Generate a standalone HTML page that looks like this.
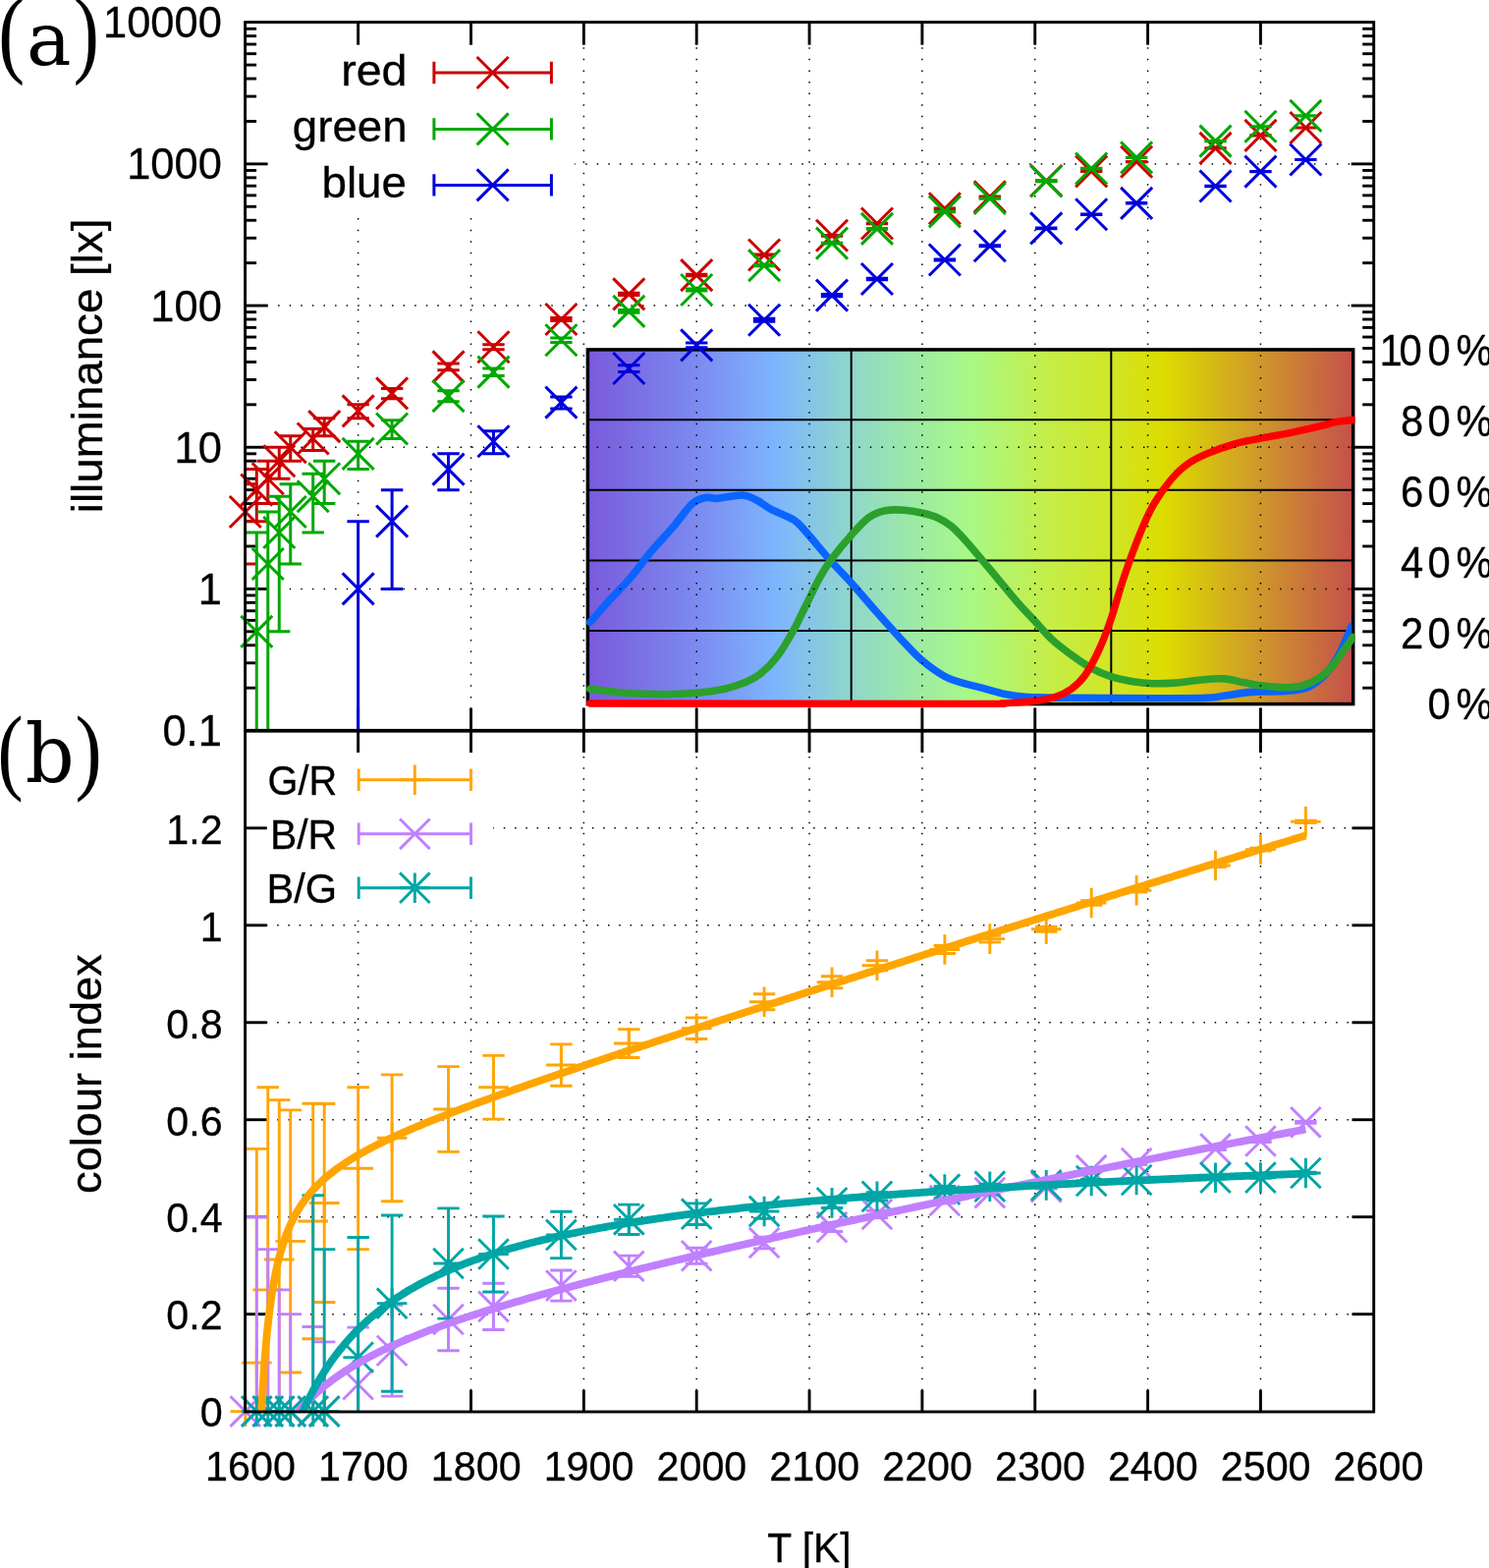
<!DOCTYPE html>
<html><head><meta charset="utf-8"><title>plot</title>
<style>html,body{margin:0;padding:0;background:#fff;overflow:hidden}svg{display:block}</style>
</head><body>
<svg xmlns="http://www.w3.org/2000/svg" width="1516" height="1596" viewBox="0 0 1516 1596">
<rect width="1516" height="1596" fill="#fff"/>
<defs><linearGradient id="spec" x1="0" x2="1" y1="0" y2="0">
<stop offset="0" stop-color="#7a5adc"/>
<stop offset="0.13" stop-color="#7b86ee"/>
<stop offset="0.246" stop-color="#7db5ff"/>
<stop offset="0.341" stop-color="#8fd6cc"/>
<stop offset="0.42" stop-color="#9ce8a8"/>
<stop offset="0.497" stop-color="#a8f888"/>
<stop offset="0.60" stop-color="#c4ee48"/>
<stop offset="0.68" stop-color="#d0e628"/>
<stop offset="0.754" stop-color="#dcdc00"/>
<stop offset="0.87" stop-color="#d09c28"/>
<stop offset="1" stop-color="#c4504c"/>
</linearGradient></defs>
<rect x="598.4" y="355.9" width="779.3000000000001" height="360.70000000000005" fill="url(#spec)"/>
<line x1="598.4" y1="427.3" x2="1377.7" y2="427.3" stroke="#000" stroke-width="2.0" />
<line x1="598.4" y1="498.85" x2="1377.7" y2="498.85" stroke="#000" stroke-width="2.0" />
<line x1="598.4" y1="570.4" x2="1377.7" y2="570.4" stroke="#000" stroke-width="2.0" />
<line x1="598.4" y1="641.95" x2="1377.7" y2="641.95" stroke="#000" stroke-width="2.0" />
<line x1="866.7" y1="355.9" x2="866.7" y2="716.6" stroke="#000" stroke-width="2.0" />
<line x1="1131.3" y1="355.9" x2="1131.3" y2="716.6" stroke="#000" stroke-width="2.0" />
<rect x="598.4" y="355.9" width="779.3000000000001" height="360.70000000000005" fill="none" stroke="#000" stroke-width="3.5"/>
<clipPath id="ci"><rect x="596.4" y="355.9" width="783.2" height="366.70000000000005"/></clipPath>
<clipPath id="cib"><rect x="596.4" y="355.9" width="779.9000000000001" height="366.70000000000005"/></clipPath>
<path d="M600.8 633.3C604.27 629.38 614.68 617.42 621.6 609.8C628.52 602.18 635.38 595.68 642.3 587.6C649.22 579.52 655.93 569.83 663.1 561.3C670.27 552.77 678.37 544.48 685.3 536.4C692.23 528.32 699.17 517.78 704.7 512.8C710.23 507.82 714.12 507.42 718.5 506.5C722.88 505.58 724.77 507.72 731 507.3C737.23 506.88 749.22 503.63 755.9 504C762.58 504.37 766.25 507.1 771.1 509.5C775.95 511.9 778.77 515.08 785 518.4C791.23 521.72 802.5 525.48 808.5 529.4C814.5 533.32 814.77 534.97 821 541.9C827.23 548.83 838.28 562.45 845.9 571C853.52 579.55 858.85 584.43 866.7 593.2C874.55 601.97 884.45 613.92 893 623.6C901.55 633.28 910.38 643.22 918 651.3C925.62 659.38 931.32 665.87 938.7 672.1C946.08 678.33 955.42 684.87 962.3 688.7C969.18 692.53 973.35 693.08 980 695.1C986.65 697.12 994.82 698.85 1002.2 700.8C1009.58 702.75 1016.92 705.33 1024.3 706.8C1031.68 708.27 1035.42 709.02 1046.5 709.6C1057.58 710.18 1069.57 710.1 1090.8 710.3C1112.03 710.5 1150.82 710.82 1173.9 710.8C1196.98 710.78 1217.3 710.62 1229.3 710.2C1241.3 709.78 1238.97 709.23 1245.9 708.3C1252.83 707.37 1264.43 705.32 1270.9 704.6C1277.37 703.88 1277.78 704.23 1284.7 704C1291.62 703.77 1304.55 703.97 1312.4 703.2C1320.25 702.43 1325.8 702.05 1331.8 699.4C1337.8 696.75 1343.32 692.53 1348.4 687.3C1353.48 682.07 1358.37 674.72 1362.3 668C1366.23 661.28 1369.72 652.08 1372 647C1374.28 641.92 1375.33 639.08 1376 637.5" stroke="#0a64ff" stroke-width="7.6" fill="none" stroke-linejoin="round" stroke-linecap="round" clip-path="url(#cib)"/>
<path d="M600.8 701.2C606.57 701.88 622.7 704.38 635.4 705.3C648.1 706.22 664.53 706.7 677 706.7C689.47 706.7 700.05 706.22 710.2 705.3C720.35 704.38 730.05 702.9 737.9 701.2C745.75 699.5 751.3 697.63 757.3 695.1C763.3 692.57 768.37 690.3 773.9 686C779.43 681.7 784.97 676.47 790.5 669.3C796.03 662.13 802.02 652 807.1 643C812.18 634 816.38 624.53 821 615.3C825.62 606.07 830.42 595.45 834.8 587.6C839.18 579.75 841.98 575.35 847.3 568.2C852.62 561.05 860.47 551.62 866.7 544.7C872.93 537.78 878.93 530.87 884.7 526.7C890.47 522.53 895.3 520.95 901.3 519.7C907.3 518.45 914.23 518.73 920.7 519.2C927.17 519.67 934.55 521.25 940.1 522.5C945.65 523.75 949.38 524.62 954 526.7C958.62 528.78 963.18 531.32 967.8 535C972.42 538.68 975.05 541.42 981.7 548.8C988.35 556.18 998.75 568.68 1007.7 579.3C1016.65 589.92 1027.78 603.73 1035.4 612.5C1043.02 621.27 1047.4 625.43 1053.4 631.9C1059.4 638.37 1065.17 645.52 1071.4 651.3C1077.63 657.08 1084.33 661.88 1090.8 666.6C1097.27 671.32 1103.5 675.92 1110.2 679.6C1116.9 683.28 1124.08 686.4 1131 688.7C1137.92 691 1144.55 692.23 1151.7 693.4C1158.85 694.57 1166.52 695.42 1173.9 695.7C1181.28 695.98 1188.15 695.67 1196 695.1C1203.85 694.53 1212.68 693 1221 692.3C1229.32 691.6 1238.05 690.43 1245.9 690.9C1253.75 691.37 1261.63 693.93 1268.1 695.1C1274.57 696.27 1278.23 697.12 1284.7 697.9C1291.17 698.68 1299.97 699.8 1306.9 699.8C1313.83 699.8 1320.3 699.52 1326.3 697.9C1332.3 696.28 1337.83 693.48 1342.9 690.1C1347.97 686.72 1352.55 682.22 1356.7 677.6C1360.85 672.98 1364.33 667.25 1367.8 662.4C1371.27 657.55 1375.88 650.82 1377.5 648.5" stroke="#2ca02c" stroke-width="7.6" fill="none" stroke-linejoin="round" stroke-linecap="round" clip-path="url(#ci)"/>
<path d="M600.8 716C664 716.07 909.87 716.42 980 716.4C1050.13 716.38 1009.6 716.35 1021.6 715.9C1033.6 715.45 1043.23 714.77 1052 713.7C1060.77 712.63 1067.73 711.58 1074.2 709.5C1080.67 707.42 1085.72 704.9 1090.8 701.2C1095.88 697.5 1100.08 693.77 1104.7 687.3C1109.32 680.83 1114.12 671.85 1118.5 662.4C1122.88 652.95 1126.85 642.6 1131 630.6C1135.15 618.6 1139.02 603.57 1143.4 590.4C1147.78 577.23 1152.68 563.38 1157.3 551.6C1161.92 539.82 1166.48 528.7 1171.1 519.7C1175.72 510.7 1180.38 504.05 1185 497.6C1189.62 491.15 1194.18 485.62 1198.8 481C1203.42 476.38 1207.62 473.13 1212.7 469.9C1217.78 466.67 1221.92 464.6 1229.3 461.6C1236.68 458.6 1247.77 454.53 1257 451.9C1266.23 449.27 1275.47 447.65 1284.7 445.8C1293.93 443.95 1303.17 442.65 1312.4 440.8C1321.63 438.95 1331.78 436.63 1340.1 434.7C1348.42 432.77 1356.07 430.4 1362.3 429.2C1368.53 428 1374.97 427.78 1377.5 427.5" stroke="#ff0000" stroke-width="7.4" fill="none" stroke-linejoin="round" stroke-linecap="round" clip-path="url(#ci)"/>
<line x1="364.65" y1="744.4" x2="364.65" y2="222" stroke="#000" stroke-width="1.5" stroke-dasharray="1.5 10.09" stroke-dashoffset="0.75"/>
<line x1="479.5" y1="744.4" x2="479.5" y2="222" stroke="#000" stroke-width="1.5" stroke-dasharray="1.5 10.09" stroke-dashoffset="0.75"/>
<line x1="594.35" y1="744.4" x2="594.35" y2="22.7" stroke="#000" stroke-width="1.5" stroke-dasharray="1.5 10.09" stroke-dashoffset="0.75"/>
<line x1="709.2" y1="744.4" x2="709.2" y2="22.7" stroke="#000" stroke-width="1.5" stroke-dasharray="1.5 10.09" stroke-dashoffset="0.75"/>
<line x1="824.05" y1="744.4" x2="824.05" y2="22.7" stroke="#000" stroke-width="1.5" stroke-dasharray="1.5 10.09" stroke-dashoffset="0.75"/>
<line x1="938.9" y1="744.4" x2="938.9" y2="22.7" stroke="#000" stroke-width="1.5" stroke-dasharray="1.5 10.09" stroke-dashoffset="0.75"/>
<line x1="1053.75" y1="744.4" x2="1053.75" y2="22.7" stroke="#000" stroke-width="1.5" stroke-dasharray="1.5 10.09" stroke-dashoffset="0.75"/>
<line x1="1168.6" y1="744.4" x2="1168.6" y2="22.7" stroke="#000" stroke-width="1.5" stroke-dasharray="1.5 10.09" stroke-dashoffset="0.75"/>
<line x1="1283.45" y1="744.4" x2="1283.45" y2="22.7" stroke="#000" stroke-width="1.5" stroke-dasharray="1.5 10.09" stroke-dashoffset="0.75"/>
<line x1="249.1" y1="599.42" x2="1398.3" y2="599.42" stroke="#000" stroke-width="1.5" stroke-dasharray="1.5 10.09" stroke-dashoffset="0.75"/>
<line x1="249.1" y1="455.24" x2="1398.3" y2="455.24" stroke="#000" stroke-width="1.5" stroke-dasharray="1.5 10.09" stroke-dashoffset="0.75"/>
<line x1="249.1" y1="311.06" x2="1398.3" y2="311.06" stroke="#000" stroke-width="1.5" stroke-dasharray="1.5 10.09" stroke-dashoffset="0.75"/>
<line x1="585.27" y1="166.88" x2="1398.3" y2="166.88" stroke="#000" stroke-width="1.5" stroke-dasharray="1.5 10.09" stroke-dashoffset="0.75"/>
<line x1="364.65" y1="1436.8" x2="364.65" y2="937" stroke="#000" stroke-width="1.5" stroke-dasharray="1.5 9.6" stroke-dashoffset="0.75"/>
<line x1="479.5" y1="1436.8" x2="479.5" y2="937" stroke="#000" stroke-width="1.5" stroke-dasharray="1.5 9.6" stroke-dashoffset="0.75"/>
<line x1="594.35" y1="1436.8" x2="594.35" y2="743.9" stroke="#000" stroke-width="1.5" stroke-dasharray="1.5 9.6" stroke-dashoffset="0.75"/>
<line x1="709.2" y1="1436.8" x2="709.2" y2="743.9" stroke="#000" stroke-width="1.5" stroke-dasharray="1.5 9.6" stroke-dashoffset="0.75"/>
<line x1="824.05" y1="1436.8" x2="824.05" y2="743.9" stroke="#000" stroke-width="1.5" stroke-dasharray="1.5 9.6" stroke-dashoffset="0.75"/>
<line x1="938.9" y1="1436.8" x2="938.9" y2="743.9" stroke="#000" stroke-width="1.5" stroke-dasharray="1.5 9.6" stroke-dashoffset="0.75"/>
<line x1="1053.75" y1="1436.8" x2="1053.75" y2="743.9" stroke="#000" stroke-width="1.5" stroke-dasharray="1.5 9.6" stroke-dashoffset="0.75"/>
<line x1="1168.6" y1="1436.8" x2="1168.6" y2="743.9" stroke="#000" stroke-width="1.5" stroke-dasharray="1.5 9.6" stroke-dashoffset="0.75"/>
<line x1="1283.45" y1="1436.8" x2="1283.45" y2="743.9" stroke="#000" stroke-width="1.5" stroke-dasharray="1.5 9.6" stroke-dashoffset="0.75"/>
<line x1="249.2" y1="1337.64" x2="1398.3" y2="1337.64" stroke="#000" stroke-width="1.5" stroke-dasharray="1.5 9.73" stroke-dashoffset="0.75"/>
<line x1="249.2" y1="1238.69" x2="1398.3" y2="1238.69" stroke="#000" stroke-width="1.5" stroke-dasharray="1.5 9.73" stroke-dashoffset="0.75"/>
<line x1="249.2" y1="1139.73" x2="1398.3" y2="1139.73" stroke="#000" stroke-width="1.5" stroke-dasharray="1.5 9.73" stroke-dashoffset="0.75"/>
<line x1="249.2" y1="1040.77" x2="1398.3" y2="1040.77" stroke="#000" stroke-width="1.5" stroke-dasharray="1.5 9.73" stroke-dashoffset="0.75"/>
<line x1="249.2" y1="941.81" x2="1398.3" y2="941.81" stroke="#000" stroke-width="1.5" stroke-dasharray="1.5 9.73" stroke-dashoffset="0.75"/>
<line x1="502.3" y1="842.86" x2="1398.3" y2="842.86" stroke="#000" stroke-width="1.5" stroke-dasharray="1.5 9.76" stroke-dashoffset="0.75"/>
<clipPath id="ca"><rect x="249.8" y="22.7" width="1148.5" height="720.9"/></clipPath>
<clipPath id="cb"><rect x="249.8" y="743.9" width="1148.5" height="692.6999999999999"/></clipPath>
<line x1="364.65" y1="22.7" x2="364.65" y2="45.7" stroke="#000" stroke-width="2.9" />
<line x1="364.65" y1="743.6" x2="364.65" y2="720.6" stroke="#000" stroke-width="2.9" />
<line x1="479.5" y1="22.7" x2="479.5" y2="45.7" stroke="#000" stroke-width="2.9" />
<line x1="479.5" y1="743.6" x2="479.5" y2="720.6" stroke="#000" stroke-width="2.9" />
<line x1="594.35" y1="22.7" x2="594.35" y2="45.7" stroke="#000" stroke-width="2.9" />
<line x1="594.35" y1="743.6" x2="594.35" y2="720.6" stroke="#000" stroke-width="2.9" />
<line x1="709.2" y1="22.7" x2="709.2" y2="45.7" stroke="#000" stroke-width="2.9" />
<line x1="709.2" y1="743.6" x2="709.2" y2="720.6" stroke="#000" stroke-width="2.9" />
<line x1="824.05" y1="22.7" x2="824.05" y2="45.7" stroke="#000" stroke-width="2.9" />
<line x1="824.05" y1="743.6" x2="824.05" y2="720.6" stroke="#000" stroke-width="2.9" />
<line x1="938.9" y1="22.7" x2="938.9" y2="45.7" stroke="#000" stroke-width="2.9" />
<line x1="938.9" y1="743.6" x2="938.9" y2="720.6" stroke="#000" stroke-width="2.9" />
<line x1="1053.75" y1="22.7" x2="1053.75" y2="45.7" stroke="#000" stroke-width="2.9" />
<line x1="1053.75" y1="743.6" x2="1053.75" y2="720.6" stroke="#000" stroke-width="2.9" />
<line x1="1168.6" y1="22.7" x2="1168.6" y2="45.7" stroke="#000" stroke-width="2.9" />
<line x1="1168.6" y1="743.6" x2="1168.6" y2="720.6" stroke="#000" stroke-width="2.9" />
<line x1="1283.45" y1="22.7" x2="1283.45" y2="45.7" stroke="#000" stroke-width="2.9" />
<line x1="1283.45" y1="743.6" x2="1283.45" y2="720.6" stroke="#000" stroke-width="2.9" />
<line x1="249.6" y1="700.2" x2="261.1" y2="700.2" stroke="#000" stroke-width="2.9" />
<line x1="1398.7" y1="700.2" x2="1387.2" y2="700.2" stroke="#000" stroke-width="2.9" />
<line x1="249.6" y1="674.81" x2="261.1" y2="674.81" stroke="#000" stroke-width="2.9" />
<line x1="1398.7" y1="674.81" x2="1387.2" y2="674.81" stroke="#000" stroke-width="2.9" />
<line x1="249.6" y1="656.79" x2="261.1" y2="656.79" stroke="#000" stroke-width="2.9" />
<line x1="1398.7" y1="656.79" x2="1387.2" y2="656.79" stroke="#000" stroke-width="2.9" />
<line x1="249.6" y1="642.82" x2="261.1" y2="642.82" stroke="#000" stroke-width="2.9" />
<line x1="1398.7" y1="642.82" x2="1387.2" y2="642.82" stroke="#000" stroke-width="2.9" />
<line x1="249.6" y1="631.41" x2="261.1" y2="631.41" stroke="#000" stroke-width="2.9" />
<line x1="1398.7" y1="631.41" x2="1387.2" y2="631.41" stroke="#000" stroke-width="2.9" />
<line x1="249.6" y1="621.75" x2="261.1" y2="621.75" stroke="#000" stroke-width="2.9" />
<line x1="1398.7" y1="621.75" x2="1387.2" y2="621.75" stroke="#000" stroke-width="2.9" />
<line x1="249.6" y1="613.39" x2="261.1" y2="613.39" stroke="#000" stroke-width="2.9" />
<line x1="1398.7" y1="613.39" x2="1387.2" y2="613.39" stroke="#000" stroke-width="2.9" />
<line x1="249.6" y1="606.02" x2="261.1" y2="606.02" stroke="#000" stroke-width="2.9" />
<line x1="1398.7" y1="606.02" x2="1387.2" y2="606.02" stroke="#000" stroke-width="2.9" />
<line x1="249.6" y1="599.42" x2="272.6" y2="599.42" stroke="#000" stroke-width="2.9" />
<line x1="1398.7" y1="599.42" x2="1375.7" y2="599.42" stroke="#000" stroke-width="2.9" />
<line x1="249.6" y1="556.02" x2="261.1" y2="556.02" stroke="#000" stroke-width="2.9" />
<line x1="1398.7" y1="556.02" x2="1387.2" y2="556.02" stroke="#000" stroke-width="2.9" />
<line x1="249.6" y1="530.63" x2="261.1" y2="530.63" stroke="#000" stroke-width="2.9" />
<line x1="1398.7" y1="530.63" x2="1387.2" y2="530.63" stroke="#000" stroke-width="2.9" />
<line x1="249.6" y1="512.61" x2="261.1" y2="512.61" stroke="#000" stroke-width="2.9" />
<line x1="1398.7" y1="512.61" x2="1387.2" y2="512.61" stroke="#000" stroke-width="2.9" />
<line x1="249.6" y1="498.64" x2="261.1" y2="498.64" stroke="#000" stroke-width="2.9" />
<line x1="1398.7" y1="498.64" x2="1387.2" y2="498.64" stroke="#000" stroke-width="2.9" />
<line x1="249.6" y1="487.23" x2="261.1" y2="487.23" stroke="#000" stroke-width="2.9" />
<line x1="1398.7" y1="487.23" x2="1387.2" y2="487.23" stroke="#000" stroke-width="2.9" />
<line x1="249.6" y1="477.57" x2="261.1" y2="477.57" stroke="#000" stroke-width="2.9" />
<line x1="1398.7" y1="477.57" x2="1387.2" y2="477.57" stroke="#000" stroke-width="2.9" />
<line x1="249.6" y1="469.21" x2="261.1" y2="469.21" stroke="#000" stroke-width="2.9" />
<line x1="1398.7" y1="469.21" x2="1387.2" y2="469.21" stroke="#000" stroke-width="2.9" />
<line x1="249.6" y1="461.84" x2="261.1" y2="461.84" stroke="#000" stroke-width="2.9" />
<line x1="1398.7" y1="461.84" x2="1387.2" y2="461.84" stroke="#000" stroke-width="2.9" />
<line x1="249.6" y1="455.24" x2="272.6" y2="455.24" stroke="#000" stroke-width="2.9" />
<line x1="1398.7" y1="455.24" x2="1375.7" y2="455.24" stroke="#000" stroke-width="2.9" />
<line x1="249.6" y1="411.84" x2="261.1" y2="411.84" stroke="#000" stroke-width="2.9" />
<line x1="1398.7" y1="411.84" x2="1387.2" y2="411.84" stroke="#000" stroke-width="2.9" />
<line x1="249.6" y1="386.45" x2="261.1" y2="386.45" stroke="#000" stroke-width="2.9" />
<line x1="1398.7" y1="386.45" x2="1387.2" y2="386.45" stroke="#000" stroke-width="2.9" />
<line x1="249.6" y1="368.43" x2="261.1" y2="368.43" stroke="#000" stroke-width="2.9" />
<line x1="1398.7" y1="368.43" x2="1387.2" y2="368.43" stroke="#000" stroke-width="2.9" />
<line x1="249.6" y1="354.46" x2="261.1" y2="354.46" stroke="#000" stroke-width="2.9" />
<line x1="1398.7" y1="354.46" x2="1387.2" y2="354.46" stroke="#000" stroke-width="2.9" />
<line x1="249.6" y1="343.05" x2="261.1" y2="343.05" stroke="#000" stroke-width="2.9" />
<line x1="1398.7" y1="343.05" x2="1387.2" y2="343.05" stroke="#000" stroke-width="2.9" />
<line x1="249.6" y1="333.39" x2="261.1" y2="333.39" stroke="#000" stroke-width="2.9" />
<line x1="1398.7" y1="333.39" x2="1387.2" y2="333.39" stroke="#000" stroke-width="2.9" />
<line x1="249.6" y1="325.03" x2="261.1" y2="325.03" stroke="#000" stroke-width="2.9" />
<line x1="1398.7" y1="325.03" x2="1387.2" y2="325.03" stroke="#000" stroke-width="2.9" />
<line x1="249.6" y1="317.66" x2="261.1" y2="317.66" stroke="#000" stroke-width="2.9" />
<line x1="1398.7" y1="317.66" x2="1387.2" y2="317.66" stroke="#000" stroke-width="2.9" />
<line x1="249.6" y1="311.06" x2="272.6" y2="311.06" stroke="#000" stroke-width="2.9" />
<line x1="1398.7" y1="311.06" x2="1375.7" y2="311.06" stroke="#000" stroke-width="2.9" />
<line x1="249.6" y1="267.66" x2="261.1" y2="267.66" stroke="#000" stroke-width="2.9" />
<line x1="1398.7" y1="267.66" x2="1387.2" y2="267.66" stroke="#000" stroke-width="2.9" />
<line x1="249.6" y1="242.27" x2="261.1" y2="242.27" stroke="#000" stroke-width="2.9" />
<line x1="1398.7" y1="242.27" x2="1387.2" y2="242.27" stroke="#000" stroke-width="2.9" />
<line x1="249.6" y1="224.25" x2="261.1" y2="224.25" stroke="#000" stroke-width="2.9" />
<line x1="1398.7" y1="224.25" x2="1387.2" y2="224.25" stroke="#000" stroke-width="2.9" />
<line x1="249.6" y1="210.28" x2="261.1" y2="210.28" stroke="#000" stroke-width="2.9" />
<line x1="1398.7" y1="210.28" x2="1387.2" y2="210.28" stroke="#000" stroke-width="2.9" />
<line x1="249.6" y1="198.87" x2="261.1" y2="198.87" stroke="#000" stroke-width="2.9" />
<line x1="1398.7" y1="198.87" x2="1387.2" y2="198.87" stroke="#000" stroke-width="2.9" />
<line x1="249.6" y1="189.21" x2="261.1" y2="189.21" stroke="#000" stroke-width="2.9" />
<line x1="1398.7" y1="189.21" x2="1387.2" y2="189.21" stroke="#000" stroke-width="2.9" />
<line x1="249.6" y1="180.85" x2="261.1" y2="180.85" stroke="#000" stroke-width="2.9" />
<line x1="1398.7" y1="180.85" x2="1387.2" y2="180.85" stroke="#000" stroke-width="2.9" />
<line x1="249.6" y1="173.48" x2="261.1" y2="173.48" stroke="#000" stroke-width="2.9" />
<line x1="1398.7" y1="173.48" x2="1387.2" y2="173.48" stroke="#000" stroke-width="2.9" />
<line x1="249.6" y1="166.88" x2="272.6" y2="166.88" stroke="#000" stroke-width="2.9" />
<line x1="1398.7" y1="166.88" x2="1375.7" y2="166.88" stroke="#000" stroke-width="2.9" />
<line x1="249.6" y1="123.48" x2="261.1" y2="123.48" stroke="#000" stroke-width="2.9" />
<line x1="1398.7" y1="123.48" x2="1387.2" y2="123.48" stroke="#000" stroke-width="2.9" />
<line x1="249.6" y1="98.09" x2="261.1" y2="98.09" stroke="#000" stroke-width="2.9" />
<line x1="1398.7" y1="98.09" x2="1387.2" y2="98.09" stroke="#000" stroke-width="2.9" />
<line x1="249.6" y1="80.07" x2="261.1" y2="80.07" stroke="#000" stroke-width="2.9" />
<line x1="1398.7" y1="80.07" x2="1387.2" y2="80.07" stroke="#000" stroke-width="2.9" />
<line x1="249.6" y1="66.1" x2="261.1" y2="66.1" stroke="#000" stroke-width="2.9" />
<line x1="1398.7" y1="66.1" x2="1387.2" y2="66.1" stroke="#000" stroke-width="2.9" />
<line x1="249.6" y1="54.69" x2="261.1" y2="54.69" stroke="#000" stroke-width="2.9" />
<line x1="1398.7" y1="54.69" x2="1387.2" y2="54.69" stroke="#000" stroke-width="2.9" />
<line x1="249.6" y1="45.03" x2="261.1" y2="45.03" stroke="#000" stroke-width="2.9" />
<line x1="1398.7" y1="45.03" x2="1387.2" y2="45.03" stroke="#000" stroke-width="2.9" />
<line x1="249.6" y1="36.67" x2="261.1" y2="36.67" stroke="#000" stroke-width="2.9" />
<line x1="1398.7" y1="36.67" x2="1387.2" y2="36.67" stroke="#000" stroke-width="2.9" />
<line x1="249.6" y1="29.3" x2="261.1" y2="29.3" stroke="#000" stroke-width="2.9" />
<line x1="1398.7" y1="29.3" x2="1387.2" y2="29.3" stroke="#000" stroke-width="2.9" />
<path d="M249.8 492.67L261 492.67M249.8 574.03L261 574.03" stroke="#cc0000" stroke-width="3.0" fill="none" clip-path="url(#ca)"/>
<path d="M233.8 504.98L265.8 536.98M233.8 536.98L265.8 504.98" stroke="#cc0000" stroke-width="3.0" fill="none"/>
<path d="M261.29 477.57L261.29 530.63M250.09 477.57L272.49 477.57M250.09 530.63L272.49 530.63" stroke="#cc0000" stroke-width="3.0" fill="none" clip-path="url(#ca)"/>
<path d="M245.29 482.64L277.29 514.64M245.29 514.64L277.29 482.64" stroke="#cc0000" stroke-width="3.0" fill="none"/>
<path d="M272.77 469.21L272.77 512.61M261.57 469.21L283.97 469.21M261.57 512.61L283.97 512.61" stroke="#cc0000" stroke-width="3.0" fill="none" clip-path="url(#ca)"/>
<path d="M256.77 471.23L288.77 503.23M256.77 503.23L288.77 471.23" stroke="#cc0000" stroke-width="3.0" fill="none"/>
<path d="M284.25 455.24L284.25 487.23M273.06 455.24L295.45 455.24M273.06 487.23L295.45 487.23" stroke="#cc0000" stroke-width="3.0" fill="none" clip-path="url(#ca)"/>
<path d="M268.25 453.21L300.25 485.21M268.25 485.21L300.25 453.21" stroke="#cc0000" stroke-width="3.0" fill="none"/>
<path d="M295.74 443.82L295.74 469.21M284.54 443.82L306.94 443.82M284.54 469.21L306.94 469.21" stroke="#cc0000" stroke-width="3.0" fill="none" clip-path="url(#ca)"/>
<path d="M279.74 439.24L311.74 471.24M279.74 471.24L311.74 439.24" stroke="#cc0000" stroke-width="3.0" fill="none"/>
<path d="M318.71 436.45L318.71 458.45M307.51 436.45L329.91 436.45M307.51 458.45L329.91 458.45" stroke="#cc0000" stroke-width="3.0" fill="none" clip-path="url(#ca)"/>
<path d="M302.71 430.49L334.71 462.49M302.71 462.49L334.71 430.49" stroke="#cc0000" stroke-width="3.0" fill="none"/>
<path d="M330.19 425.81L330.19 443.82M319 425.81L341.39 425.81M319 443.82L341.39 443.82" stroke="#cc0000" stroke-width="3.0" fill="none" clip-path="url(#ca)"/>
<path d="M314.19 418.17L346.19 450.17M314.19 450.17L346.19 418.17" stroke="#cc0000" stroke-width="3.0" fill="none"/>
<path d="M364.65 411.84L364.65 425.81M353.45 411.84L375.85 411.84M353.45 425.81L375.85 425.81" stroke="#cc0000" stroke-width="3.0" fill="none" clip-path="url(#ca)"/>
<path d="M348.65 402.43L380.65 434.43M348.65 434.43L380.65 402.43" stroke="#cc0000" stroke-width="3.0" fill="none"/>
<path d="M399.11 395.41L399.11 405.87M387.91 395.41L410.31 395.41M387.91 405.87L410.31 405.87" stroke="#cc0000" stroke-width="3.0" fill="none" clip-path="url(#ca)"/>
<path d="M383.11 384.42L415.11 416.42M383.11 416.42L415.11 384.42" stroke="#cc0000" stroke-width="3.0" fill="none"/>
<path d="M456.53 370.02L456.53 376.8M445.33 370.02L467.73 370.02M445.33 376.8L467.73 376.8" stroke="#cc0000" stroke-width="3.0" fill="none" clip-path="url(#ca)"/>
<path d="M440.53 357.32L472.53 389.32M440.53 389.32L472.53 357.32" stroke="#cc0000" stroke-width="3.0" fill="none"/>
<path d="M502.47 350.81L502.47 355.73M491.27 350.81L513.67 350.81M491.27 355.73L513.67 355.73" stroke="#cc0000" stroke-width="3.0" fill="none" clip-path="url(#ca)"/>
<path d="M486.47 337.22L518.47 369.22M486.47 369.22L518.47 337.22" stroke="#cc0000" stroke-width="3.0" fill="none"/>
<path d="M571.38 323.49L571.38 326.62M560.18 323.49L582.58 323.49M560.18 326.62L582.58 326.62" stroke="#cc0000" stroke-width="3.0" fill="none" clip-path="url(#ca)"/>
<path d="M555.38 309.03L587.38 341.03M555.38 341.03L587.38 309.03" stroke="#cc0000" stroke-width="3.0" fill="none"/>
<path d="M640.29 298.35L640.29 300.43M629.09 298.35L651.49 298.35M629.09 300.43L651.49 300.43" stroke="#cc0000" stroke-width="3.0" fill="none" clip-path="url(#ca)"/>
<path d="M624.29 283.38L656.29 315.38M624.29 315.38L656.29 283.38" stroke="#cc0000" stroke-width="3.0" fill="none"/>
<path d="M709.2 279.32L709.2 280.85M698 279.32L720.4 279.32M698 280.85L720.4 280.85" stroke="#cc0000" stroke-width="3.0" fill="none" clip-path="url(#ca)"/>
<path d="M693.2 264.08L725.2 296.08M693.2 296.08L725.2 264.08" stroke="#cc0000" stroke-width="3.0" fill="none"/>
<path d="M778.11 258.91L778.11 260M766.91 258.91L789.31 258.91M766.91 260L789.31 260" stroke="#cc0000" stroke-width="3.0" fill="none" clip-path="url(#ca)"/>
<path d="M762.11 243.45L794.11 275.45M762.11 275.45L794.11 243.45" stroke="#cc0000" stroke-width="3.0" fill="none"/>
<path d="M847.02 239.41L847.02 240.22M835.82 239.41L858.22 239.41M835.82 240.22L858.22 240.22" stroke="#cc0000" stroke-width="3.0" fill="none" clip-path="url(#ca)"/>
<path d="M831.02 223.81L863.02 255.81M831.02 255.81L863.02 223.81" stroke="#cc0000" stroke-width="3.0" fill="none"/>
<path d="M892.96 227.14L892.96 227.8M881.76 227.14L904.16 227.14M881.76 227.8L904.16 227.8" stroke="#cc0000" stroke-width="3.0" fill="none" clip-path="url(#ca)"/>
<path d="M876.96 211.47L908.96 243.47M876.96 243.47L908.96 211.47" stroke="#cc0000" stroke-width="3.0" fill="none"/>
<path d="M961.87 211.93L961.87 212.45M950.67 211.93L973.07 211.93M950.67 212.45L973.07 212.45" stroke="#cc0000" stroke-width="3.0" fill="none" clip-path="url(#ca)"/>
<path d="M945.87 196.19L977.87 228.19M945.87 228.19L977.87 196.19" stroke="#cc0000" stroke-width="3.0" fill="none"/>
<path d="M1007.81 200.02L1007.81 200.45M996.61 200.02L1019.01 200.02M996.61 200.45L1019.01 200.45" stroke="#cc0000" stroke-width="3.0" fill="none" clip-path="url(#ca)"/>
<path d="M991.81 184.24L1023.81 216.24M991.81 216.24L1023.81 184.24" stroke="#cc0000" stroke-width="3.0" fill="none"/>
<path d="M1065.23 183.82L1065.23 184.15M1054.03 183.82L1076.43 183.82M1054.03 184.15L1076.43 184.15" stroke="#cc0000" stroke-width="3.0" fill="none" clip-path="url(#ca)"/>
<path d="M1049.23 167.98L1081.23 199.98M1049.23 199.98L1081.23 167.98" stroke="#cc0000" stroke-width="3.0" fill="none"/>
<path d="M1111.17 174.18L1111.17 174.46M1099.97 174.18L1122.38 174.18M1099.97 174.46L1122.38 174.46" stroke="#cc0000" stroke-width="3.0" fill="none" clip-path="url(#ca)"/>
<path d="M1095.17 158.32L1127.17 190.32M1095.17 190.32L1127.17 158.32" stroke="#cc0000" stroke-width="3.0" fill="none"/>
<path d="M1157.12 164.61L1157.12 164.85M1145.91 164.61L1168.32 164.61M1145.91 164.85L1168.32 164.85" stroke="#cc0000" stroke-width="3.0" fill="none" clip-path="url(#ca)"/>
<path d="M1141.12 148.73L1173.12 180.73M1141.12 180.73L1173.12 148.73" stroke="#cc0000" stroke-width="3.0" fill="none"/>
<path d="M1237.51 150.79L1237.51 150.98M1226.31 150.79L1248.71 150.79M1226.31 150.98L1248.71 150.98" stroke="#cc0000" stroke-width="3.0" fill="none" clip-path="url(#ca)"/>
<path d="M1221.51 134.89L1253.51 166.89M1221.51 166.89L1253.51 134.89" stroke="#cc0000" stroke-width="3.0" fill="none"/>
<path d="M1283.45 137.8L1283.45 137.96M1272.25 137.8L1294.65 137.8M1272.25 137.96L1294.65 137.96" stroke="#cc0000" stroke-width="3.0" fill="none" clip-path="url(#ca)"/>
<path d="M1267.45 121.88L1299.45 153.88M1267.45 153.88L1299.45 121.88" stroke="#cc0000" stroke-width="3.0" fill="none"/>
<path d="M1329.39 129.9L1329.39 130.04M1318.19 129.9L1340.59 129.9M1318.19 130.04L1340.59 130.04" stroke="#cc0000" stroke-width="3.0" fill="none" clip-path="url(#ca)"/>
<path d="M1313.39 113.97L1345.39 145.97M1313.39 145.97L1345.39 113.97" stroke="#cc0000" stroke-width="3.0" fill="none"/>
<path d="M261.29 542.05L261.29 743.6M250.09 542.05L272.49 542.05" stroke="#00a800" stroke-width="3.0" fill="none" clip-path="url(#ca)"/>
<path d="M245.29 626.82L277.29 658.82M245.29 658.82L277.29 626.82" stroke="#00a800" stroke-width="3.0" fill="none"/>
<path d="M272.77 520.98L272.77 743.6M261.57 520.98L283.97 520.98" stroke="#00a800" stroke-width="3.0" fill="none" clip-path="url(#ca)"/>
<path d="M256.77 558.03L288.77 590.03M256.77 590.03L288.77 558.03" stroke="#00a800" stroke-width="3.0" fill="none"/>
<path d="M284.25 505.24L284.25 642.82M273.06 505.24L295.45 505.24M273.06 642.82L295.45 642.82" stroke="#00a800" stroke-width="3.0" fill="none" clip-path="url(#ca)"/>
<path d="M268.25 526.05L300.25 558.05M268.25 558.05L300.25 526.05" stroke="#00a800" stroke-width="3.0" fill="none"/>
<path d="M295.74 492.67L295.74 574.03M284.54 492.67L306.94 492.67M284.54 574.03L306.94 574.03" stroke="#00a800" stroke-width="3.0" fill="none" clip-path="url(#ca)"/>
<path d="M279.74 504.98L311.74 536.98M279.74 536.98L311.74 504.98" stroke="#00a800" stroke-width="3.0" fill="none"/>
<path d="M318.71 482.21L318.71 542.05M307.51 482.21L329.91 482.21M307.51 542.05L329.91 542.05" stroke="#00a800" stroke-width="3.0" fill="none" clip-path="url(#ca)"/>
<path d="M302.71 489.24L334.71 521.24M302.71 521.24L334.71 489.24" stroke="#00a800" stroke-width="3.0" fill="none"/>
<path d="M330.19 469.21L330.19 512.61M319 469.21L341.39 469.21M319 512.61L341.39 512.61" stroke="#00a800" stroke-width="3.0" fill="none" clip-path="url(#ca)"/>
<path d="M314.19 471.23L346.19 503.23M314.19 503.23L346.19 471.23" stroke="#00a800" stroke-width="3.0" fill="none"/>
<path d="M364.65 449.27L364.65 477.57M353.45 449.27L375.85 449.27M353.45 477.57L375.85 477.57" stroke="#00a800" stroke-width="3.0" fill="none" clip-path="url(#ca)"/>
<path d="M348.65 445.84L380.65 477.84M348.65 477.84L380.65 445.84" stroke="#00a800" stroke-width="3.0" fill="none"/>
<path d="M399.11 427.8L399.11 446.49M387.91 427.8L410.31 427.8M387.91 446.49L410.31 446.49" stroke="#00a800" stroke-width="3.0" fill="none" clip-path="url(#ca)"/>
<path d="M383.11 420.45L415.11 452.45M383.11 452.45L415.11 420.45" stroke="#00a800" stroke-width="3.0" fill="none"/>
<path d="M456.53 397.87L456.53 408.78M445.33 397.87L467.73 397.87M445.33 408.78L467.73 408.78" stroke="#00a800" stroke-width="3.0" fill="none" clip-path="url(#ca)"/>
<path d="M440.53 387.09L472.53 419.09M440.53 419.09L472.53 387.09" stroke="#00a800" stroke-width="3.0" fill="none"/>
<path d="M502.47 375.03L502.47 382.41M491.27 375.03L513.67 375.03M491.27 382.41L513.67 382.41" stroke="#00a800" stroke-width="3.0" fill="none" clip-path="url(#ca)"/>
<path d="M486.47 362.61L518.47 394.61M486.47 394.61L518.47 362.61" stroke="#00a800" stroke-width="3.0" fill="none"/>
<path d="M571.38 344.1L571.38 348.49M560.18 344.1L582.58 344.1M560.18 348.49L582.58 348.49" stroke="#00a800" stroke-width="3.0" fill="none" clip-path="url(#ca)"/>
<path d="M555.38 330.26L587.38 362.26M555.38 362.26L587.38 330.26" stroke="#00a800" stroke-width="3.0" fill="none"/>
<path d="M640.29 315.46L640.29 318.2M629.09 315.46L651.49 315.46M629.09 318.2L651.49 318.2" stroke="#00a800" stroke-width="3.0" fill="none" clip-path="url(#ca)"/>
<path d="M624.29 300.82L656.29 332.82M624.29 332.82L656.29 300.82" stroke="#00a800" stroke-width="3.0" fill="none"/>
<path d="M709.2 294.04L709.2 295.98M698 294.04L720.4 294.04M698 295.98L720.4 295.98" stroke="#00a800" stroke-width="3.0" fill="none" clip-path="url(#ca)"/>
<path d="M693.2 279L725.2 311M693.2 311L725.2 279" stroke="#00a800" stroke-width="3.0" fill="none"/>
<path d="M778.11 269.53L778.11 270.83M766.91 269.53L789.31 269.53M766.91 270.83L789.31 270.83" stroke="#00a800" stroke-width="3.0" fill="none" clip-path="url(#ca)"/>
<path d="M762.11 254.18L794.11 286.18M762.11 286.18L794.11 254.18" stroke="#00a800" stroke-width="3.0" fill="none"/>
<path d="M847.02 247.15L847.02 248.06M835.82 247.15L858.22 247.15M835.82 248.06L858.22 248.06" stroke="#00a800" stroke-width="3.0" fill="none" clip-path="url(#ca)"/>
<path d="M831.02 231.6L863.02 263.6M831.02 263.6L863.02 231.6" stroke="#00a800" stroke-width="3.0" fill="none"/>
<path d="M892.96 232.51L892.96 233.23M881.76 232.51L904.16 232.51M881.76 233.23L904.16 233.23" stroke="#00a800" stroke-width="3.0" fill="none" clip-path="url(#ca)"/>
<path d="M876.96 216.87L908.96 248.87M876.96 248.87L908.96 216.87" stroke="#00a800" stroke-width="3.0" fill="none"/>
<path d="M961.87 215.13L961.87 215.67M950.67 215.13L973.07 215.13M950.67 215.67L973.07 215.67" stroke="#00a800" stroke-width="3.0" fill="none" clip-path="url(#ca)"/>
<path d="M945.87 199.4L977.87 231.4M945.87 231.4L977.87 199.4" stroke="#00a800" stroke-width="3.0" fill="none"/>
<path d="M1007.81 201.8L1007.81 202.24M996.61 201.8L1019.01 201.8M996.61 202.24L1019.01 202.24" stroke="#00a800" stroke-width="3.0" fill="none" clip-path="url(#ca)"/>
<path d="M991.81 186.02L1023.81 218.02M991.81 218.02L1023.81 186.02" stroke="#00a800" stroke-width="3.0" fill="none"/>
<path d="M1065.23 184.32L1065.23 184.65M1054.03 184.32L1076.43 184.32M1054.03 184.65L1076.43 184.65" stroke="#00a800" stroke-width="3.0" fill="none" clip-path="url(#ca)"/>
<path d="M1049.23 168.48L1081.23 200.48M1049.23 200.48L1081.23 168.48" stroke="#00a800" stroke-width="3.0" fill="none"/>
<path d="M1111.17 171.37L1111.17 171.64M1099.97 171.37L1122.38 171.37M1099.97 171.64L1122.38 171.64" stroke="#00a800" stroke-width="3.0" fill="none" clip-path="url(#ca)"/>
<path d="M1095.17 155.5L1127.17 187.5M1095.17 187.5L1127.17 155.5" stroke="#00a800" stroke-width="3.0" fill="none"/>
<path d="M1157.12 160.26L1157.12 160.49M1145.91 160.26L1168.32 160.26M1145.91 160.49L1168.32 160.49" stroke="#00a800" stroke-width="3.0" fill="none" clip-path="url(#ca)"/>
<path d="M1141.12 144.37L1173.12 176.37M1141.12 176.37L1173.12 144.37" stroke="#00a800" stroke-width="3.0" fill="none"/>
<path d="M1237.51 143.54L1237.51 143.71M1226.31 143.54L1248.71 143.54M1226.31 143.71L1248.71 143.71" stroke="#00a800" stroke-width="3.0" fill="none" clip-path="url(#ca)"/>
<path d="M1221.51 127.62L1253.51 159.62M1221.51 159.62L1253.51 127.62" stroke="#00a800" stroke-width="3.0" fill="none"/>
<path d="M1283.45 128.74L1283.45 128.87M1272.25 128.74L1294.65 128.74M1272.25 128.87L1294.65 128.87" stroke="#00a800" stroke-width="3.0" fill="none" clip-path="url(#ca)"/>
<path d="M1267.45 112.8L1299.45 144.8M1267.45 144.8L1299.45 112.8" stroke="#00a800" stroke-width="3.0" fill="none"/>
<path d="M1329.39 117.82L1329.39 117.94M1318.19 117.82L1340.59 117.82M1318.19 117.94L1340.59 117.94" stroke="#00a800" stroke-width="3.0" fill="none" clip-path="url(#ca)"/>
<path d="M1313.39 101.88L1345.39 133.88M1313.39 133.88L1345.39 101.88" stroke="#00a800" stroke-width="3.0" fill="none"/>
<path d="M364.65 530.63L364.65 743.6M353.45 530.63L375.85 530.63" stroke="#0000dd" stroke-width="3.0" fill="none" clip-path="url(#ca)"/>
<path d="M348.65 583.42L380.65 615.42M348.65 615.42L380.65 583.42" stroke="#0000dd" stroke-width="3.0" fill="none"/>
<path d="M399.11 498.64L399.11 599.42M387.91 498.64L410.31 498.64M387.91 599.42L410.31 599.42" stroke="#0000dd" stroke-width="3.0" fill="none" clip-path="url(#ca)"/>
<path d="M383.11 514.63L415.11 546.63M383.11 546.63L415.11 514.63" stroke="#0000dd" stroke-width="3.0" fill="none"/>
<path d="M456.53 461.84L456.53 498.64M445.33 461.84L467.73 461.84M445.33 498.64L467.73 498.64" stroke="#0000dd" stroke-width="3.0" fill="none" clip-path="url(#ca)"/>
<path d="M440.53 461.57L472.53 493.57M440.53 493.57L472.53 461.57" stroke="#0000dd" stroke-width="3.0" fill="none"/>
<path d="M502.47 438.81L502.47 461.84M491.27 438.81L513.67 438.81M491.27 461.84L513.67 461.84" stroke="#0000dd" stroke-width="3.0" fill="none" clip-path="url(#ca)"/>
<path d="M486.47 433.27L518.47 465.27M486.47 465.27L518.47 433.27" stroke="#0000dd" stroke-width="3.0" fill="none"/>
<path d="M571.38 403.91L571.38 416.05M560.18 403.91L582.58 403.91M560.18 416.05L582.58 416.05" stroke="#0000dd" stroke-width="3.0" fill="none" clip-path="url(#ca)"/>
<path d="M555.38 393.68L587.38 425.68M555.38 425.68L587.38 393.68" stroke="#0000dd" stroke-width="3.0" fill="none"/>
<path d="M640.29 371.64L640.29 378.6M629.09 371.64L651.49 371.64M629.09 378.6L651.49 378.6" stroke="#0000dd" stroke-width="3.0" fill="none" clip-path="url(#ca)"/>
<path d="M624.29 359.02L656.29 391.02M624.29 391.02L656.29 359.02" stroke="#0000dd" stroke-width="3.0" fill="none"/>
<path d="M709.2 349.09L709.2 353.86M698 349.09L720.4 349.09M698 353.86L720.4 353.86" stroke="#0000dd" stroke-width="3.0" fill="none" clip-path="url(#ca)"/>
<path d="M693.2 335.43L725.2 367.43M693.2 367.43L725.2 335.43" stroke="#0000dd" stroke-width="3.0" fill="none"/>
<path d="M778.11 324.2L778.11 327.37M766.91 324.2L789.31 324.2M766.91 327.37L789.31 327.37" stroke="#0000dd" stroke-width="3.0" fill="none" clip-path="url(#ca)"/>
<path d="M762.11 309.76L794.11 341.76M762.11 341.76L794.11 309.76" stroke="#0000dd" stroke-width="3.0" fill="none"/>
<path d="M847.02 299.55L847.02 301.67M835.82 299.55L858.22 299.55M835.82 301.67L858.22 301.67" stroke="#0000dd" stroke-width="3.0" fill="none" clip-path="url(#ca)"/>
<path d="M831.02 284.6L863.02 316.6M831.02 316.6L863.02 284.6" stroke="#0000dd" stroke-width="3.0" fill="none"/>
<path d="M892.96 283.18L892.96 284.8M881.76 283.18L904.16 283.18M881.76 284.8L904.16 284.8" stroke="#0000dd" stroke-width="3.0" fill="none" clip-path="url(#ca)"/>
<path d="M876.96 267.99L908.96 299.99M876.96 299.99L908.96 267.99" stroke="#0000dd" stroke-width="3.0" fill="none"/>
<path d="M961.87 263.89L961.87 265.08M950.67 263.89L973.07 263.89M950.67 265.08L973.07 265.08" stroke="#0000dd" stroke-width="3.0" fill="none" clip-path="url(#ca)"/>
<path d="M945.87 248.49L977.87 280.49M945.87 280.49L977.87 248.49" stroke="#0000dd" stroke-width="3.0" fill="none"/>
<path d="M1007.81 249.81L1007.81 250.76M996.61 249.81L1019.01 249.81M996.61 250.76L1019.01 250.76" stroke="#0000dd" stroke-width="3.0" fill="none" clip-path="url(#ca)"/>
<path d="M991.81 234.28L1023.81 266.28M991.81 266.28L1023.81 234.28" stroke="#0000dd" stroke-width="3.0" fill="none"/>
<path d="M1065.23 232.05L1065.23 232.76M1054.03 232.05L1076.43 232.05M1054.03 232.76L1076.43 232.76" stroke="#0000dd" stroke-width="3.0" fill="none" clip-path="url(#ca)"/>
<path d="M1049.23 216.4L1081.23 248.4M1049.23 248.4L1081.23 216.4" stroke="#0000dd" stroke-width="3.0" fill="none"/>
<path d="M1111.17 217.94L1111.17 218.51M1099.97 217.94L1122.38 217.94M1099.97 218.51L1122.38 218.51" stroke="#0000dd" stroke-width="3.0" fill="none" clip-path="url(#ca)"/>
<path d="M1095.17 202.22L1127.17 234.22M1095.17 234.22L1127.17 202.22" stroke="#0000dd" stroke-width="3.0" fill="none"/>
<path d="M1157.12 206.59L1157.12 207.06M1145.91 206.59L1168.32 206.59M1145.91 207.06L1168.32 207.06" stroke="#0000dd" stroke-width="3.0" fill="none" clip-path="url(#ca)"/>
<path d="M1141.12 190.83L1173.12 222.83M1141.12 222.83L1173.12 190.83" stroke="#0000dd" stroke-width="3.0" fill="none"/>
<path d="M1237.51 189.29L1237.51 189.65M1226.31 189.29L1248.71 189.29M1226.31 189.65L1248.71 189.65" stroke="#0000dd" stroke-width="3.0" fill="none" clip-path="url(#ca)"/>
<path d="M1221.51 173.47L1253.51 205.47M1221.51 205.47L1253.51 173.47" stroke="#0000dd" stroke-width="3.0" fill="none"/>
<path d="M1283.45 174.5L1283.45 174.78M1272.25 174.5L1294.65 174.5M1272.25 174.78L1294.65 174.78" stroke="#0000dd" stroke-width="3.0" fill="none" clip-path="url(#ca)"/>
<path d="M1267.45 158.64L1299.45 190.64M1267.45 190.64L1299.45 158.64" stroke="#0000dd" stroke-width="3.0" fill="none"/>
<path d="M1329.39 162.39L1329.39 162.62M1318.19 162.39L1340.59 162.39M1318.19 162.62L1340.59 162.62" stroke="#0000dd" stroke-width="3.0" fill="none" clip-path="url(#ca)"/>
<path d="M1313.39 146.5L1345.39 178.5M1313.39 178.5L1345.39 146.5" stroke="#0000dd" stroke-width="3.0" fill="none"/>
<path d="M441.9 74L561.4 74M441.9 62.8L441.9 85.2M561.4 62.8L561.4 85.2" stroke="#cc0000" stroke-width="3.0" fill="none"/>
<path d="M485.65 58L517.65 90M485.65 90L517.65 58" stroke="#cc0000" stroke-width="3.0" fill="none"/>
<path d="M441.9 131.4L561.4 131.4M441.9 120.2L441.9 142.6M561.4 120.2L561.4 142.6" stroke="#00a800" stroke-width="3.0" fill="none"/>
<path d="M485.65 115.4L517.65 147.4M485.65 147.4L517.65 115.4" stroke="#00a800" stroke-width="3.0" fill="none"/>
<path d="M441.9 188.4L561.4 188.4M441.9 177.2L441.9 199.6M561.4 177.2L561.4 199.6" stroke="#0000dd" stroke-width="3.0" fill="none"/>
<path d="M485.65 172.4L517.65 204.4M485.65 204.4L517.65 172.4" stroke="#0000dd" stroke-width="3.0" fill="none"/>
<rect x="249.6" y="22.6" width="1149.1" height="720.75" fill="none" stroke="#000" stroke-width="2.9"/>
<line x1="364.65" y1="743.9" x2="364.65" y2="766.1" stroke="#000" stroke-width="2.9" />
<line x1="364.65" y1="1437" x2="364.65" y2="1414.8" stroke="#000" stroke-width="2.9" />
<line x1="479.5" y1="743.9" x2="479.5" y2="766.1" stroke="#000" stroke-width="2.9" />
<line x1="479.5" y1="1437" x2="479.5" y2="1414.8" stroke="#000" stroke-width="2.9" />
<line x1="594.35" y1="743.9" x2="594.35" y2="766.1" stroke="#000" stroke-width="2.9" />
<line x1="594.35" y1="1437" x2="594.35" y2="1414.8" stroke="#000" stroke-width="2.9" />
<line x1="709.2" y1="743.9" x2="709.2" y2="766.1" stroke="#000" stroke-width="2.9" />
<line x1="709.2" y1="1437" x2="709.2" y2="1414.8" stroke="#000" stroke-width="2.9" />
<line x1="824.05" y1="743.9" x2="824.05" y2="766.1" stroke="#000" stroke-width="2.9" />
<line x1="824.05" y1="1437" x2="824.05" y2="1414.8" stroke="#000" stroke-width="2.9" />
<line x1="938.9" y1="743.9" x2="938.9" y2="766.1" stroke="#000" stroke-width="2.9" />
<line x1="938.9" y1="1437" x2="938.9" y2="1414.8" stroke="#000" stroke-width="2.9" />
<line x1="1053.75" y1="743.9" x2="1053.75" y2="766.1" stroke="#000" stroke-width="2.9" />
<line x1="1053.75" y1="1437" x2="1053.75" y2="1414.8" stroke="#000" stroke-width="2.9" />
<line x1="1168.6" y1="743.9" x2="1168.6" y2="766.1" stroke="#000" stroke-width="2.9" />
<line x1="1168.6" y1="1437" x2="1168.6" y2="1414.8" stroke="#000" stroke-width="2.9" />
<line x1="1283.45" y1="743.9" x2="1283.45" y2="766.1" stroke="#000" stroke-width="2.9" />
<line x1="1283.45" y1="1437" x2="1283.45" y2="1414.8" stroke="#000" stroke-width="2.9" />
<line x1="249.6" y1="1337.64" x2="271.8" y2="1337.64" stroke="#000" stroke-width="2.9" />
<line x1="1398.7" y1="1337.64" x2="1376.5" y2="1337.64" stroke="#000" stroke-width="2.9" />
<line x1="249.6" y1="1238.69" x2="271.8" y2="1238.69" stroke="#000" stroke-width="2.9" />
<line x1="1398.7" y1="1238.69" x2="1376.5" y2="1238.69" stroke="#000" stroke-width="2.9" />
<line x1="249.6" y1="1139.73" x2="271.8" y2="1139.73" stroke="#000" stroke-width="2.9" />
<line x1="1398.7" y1="1139.73" x2="1376.5" y2="1139.73" stroke="#000" stroke-width="2.9" />
<line x1="249.6" y1="1040.77" x2="271.8" y2="1040.77" stroke="#000" stroke-width="2.9" />
<line x1="1398.7" y1="1040.77" x2="1376.5" y2="1040.77" stroke="#000" stroke-width="2.9" />
<line x1="249.6" y1="941.81" x2="271.8" y2="941.81" stroke="#000" stroke-width="2.9" />
<line x1="1398.7" y1="941.81" x2="1376.5" y2="941.81" stroke="#000" stroke-width="2.9" />
<line x1="249.6" y1="842.86" x2="271.8" y2="842.86" stroke="#000" stroke-width="2.9" />
<line x1="1398.7" y1="842.86" x2="1376.5" y2="842.86" stroke="#000" stroke-width="2.9" />
<path d="M234.5 1436.6L265.1 1436.6M249.8 1421.3L249.8 1451.9" stroke="#ffa500" stroke-width="2.9" fill="none"/>
<path d="M261.29 1169.42L261.29 1436.6M250.09 1169.42L272.49 1169.42" stroke="#ffa500" stroke-width="2.9" fill="none" clip-path="url(#cb)"/>
<path d="M245.99 1387.12L276.59 1387.12M261.29 1371.82L261.29 1402.42" stroke="#ffa500" stroke-width="2.9" fill="none"/>
<path d="M272.77 1106.74L272.77 1436.6M261.57 1106.74L283.97 1106.74" stroke="#ffa500" stroke-width="2.9" fill="none" clip-path="url(#cb)"/>
<path d="M257.47 1312.9L288.07 1312.9M272.77 1297.6L272.77 1328.2" stroke="#ffa500" stroke-width="2.9" fill="none"/>
<path d="M284.25 1119.63L284.25 1436.6M273.06 1119.63L295.45 1119.63" stroke="#ffa500" stroke-width="2.9" fill="none" clip-path="url(#cb)"/>
<path d="M268.95 1281.98L299.56 1281.98M284.25 1266.68L284.25 1297.28" stroke="#ffa500" stroke-width="2.9" fill="none"/>
<path d="M295.74 1129.83L295.74 1397.02M284.54 1129.83L306.94 1129.83M284.54 1397.02L306.94 1397.02" stroke="#ffa500" stroke-width="2.9" fill="none" clip-path="url(#cb)"/>
<path d="M280.44 1263.42L311.04 1263.42M295.74 1248.12L295.74 1278.72" stroke="#ffa500" stroke-width="2.9" fill="none"/>
<path d="M318.71 1123.27L318.71 1362.71M307.51 1123.27L329.91 1123.27M307.51 1362.71L329.91 1362.71" stroke="#ffa500" stroke-width="2.9" fill="none" clip-path="url(#cb)"/>
<path d="M303.41 1242.99L334.01 1242.99M318.71 1227.69L318.71 1258.29" stroke="#ffa500" stroke-width="2.9" fill="none"/>
<path d="M330.19 1123.57L330.19 1325.53M319 1123.57L341.39 1123.57M319 1325.53L341.39 1325.53" stroke="#ffa500" stroke-width="2.9" fill="none" clip-path="url(#cb)"/>
<path d="M314.89 1224.55L345.5 1224.55M330.19 1209.25L330.19 1239.85" stroke="#ffa500" stroke-width="2.9" fill="none"/>
<path d="M364.65 1106.74L364.65 1271.67M353.45 1106.74L375.85 1106.74M353.45 1271.67L375.85 1271.67" stroke="#ffa500" stroke-width="2.9" fill="none" clip-path="url(#cb)"/>
<path d="M349.35 1189.21L379.95 1189.21M364.65 1173.91L364.65 1204.51" stroke="#ffa500" stroke-width="2.9" fill="none"/>
<path d="M399.11 1093.86L399.11 1222.71M387.91 1093.86L410.31 1093.86M387.91 1222.71L410.31 1222.71" stroke="#ffa500" stroke-width="2.9" fill="none" clip-path="url(#cb)"/>
<path d="M383.81 1158.28L414.41 1158.28M399.11 1142.98L399.11 1173.58" stroke="#ffa500" stroke-width="2.9" fill="none"/>
<path d="M456.53 1085.66L456.53 1172.4M445.33 1085.66L467.73 1085.66M445.33 1172.4L467.73 1172.4" stroke="#ffa500" stroke-width="2.9" fill="none" clip-path="url(#cb)"/>
<path d="M441.23 1129.03L471.83 1129.03M456.53 1113.73L456.53 1144.33" stroke="#ffa500" stroke-width="2.9" fill="none"/>
<path d="M502.47 1074.4L502.47 1139.08M491.27 1074.4L513.67 1074.4M491.27 1139.08L513.67 1139.08" stroke="#ffa500" stroke-width="2.9" fill="none" clip-path="url(#cb)"/>
<path d="M487.17 1106.74L517.77 1106.74M502.47 1091.44L502.47 1122.04" stroke="#ffa500" stroke-width="2.9" fill="none"/>
<path d="M571.38 1062.88L571.38 1105.25M560.18 1062.88L582.58 1062.88M560.18 1105.25L582.58 1105.25" stroke="#ffa500" stroke-width="2.9" fill="none" clip-path="url(#cb)"/>
<path d="M556.08 1084.07L586.68 1084.07M571.38 1068.77L571.38 1099.37" stroke="#ffa500" stroke-width="2.9" fill="none"/>
<path d="M640.29 1047.62L640.29 1076.48M629.09 1047.62L651.49 1047.62M629.09 1076.48L651.49 1076.48" stroke="#ffa500" stroke-width="2.9" fill="none" clip-path="url(#cb)"/>
<path d="M624.99 1062.05L655.59 1062.05M640.29 1046.75L640.29 1077.35" stroke="#ffa500" stroke-width="2.9" fill="none"/>
<path d="M709.2 1035.92L709.2 1057.5M698 1035.92L720.4 1035.92M698 1057.5L720.4 1057.5" stroke="#ffa500" stroke-width="2.9" fill="none" clip-path="url(#cb)"/>
<path d="M693.9 1046.71L724.5 1046.71M709.2 1031.41L709.2 1062.01" stroke="#ffa500" stroke-width="2.9" fill="none"/>
<path d="M778.11 1011.7L778.11 1027.69M766.91 1011.7L789.31 1011.7M766.91 1027.69L789.31 1027.69" stroke="#ffa500" stroke-width="2.9" fill="none" clip-path="url(#cb)"/>
<path d="M762.81 1019.69L793.41 1019.69M778.11 1004.39L778.11 1034.99" stroke="#ffa500" stroke-width="2.9" fill="none"/>
<path d="M847.02 993.73L847.02 1005.68M835.82 993.73L858.22 993.73M835.82 1005.68L858.22 1005.68" stroke="#ffa500" stroke-width="2.9" fill="none" clip-path="url(#cb)"/>
<path d="M831.72 999.7L862.32 999.7M847.02 984.4L847.02 1015" stroke="#ffa500" stroke-width="2.9" fill="none"/>
<path d="M892.96 977.74L892.96 987.73M881.76 977.74L904.16 977.74M881.76 987.73L904.16 987.73" stroke="#ffa500" stroke-width="2.9" fill="none" clip-path="url(#cb)"/>
<path d="M877.66 982.73L908.26 982.73M892.96 967.43L892.96 998.03" stroke="#ffa500" stroke-width="2.9" fill="none"/>
<path d="M961.87 962.57L961.87 970.53M950.67 962.57L973.07 962.57M950.67 970.53L973.07 970.53" stroke="#ffa500" stroke-width="2.9" fill="none" clip-path="url(#cb)"/>
<path d="M946.57 966.55L977.17 966.55M961.87 951.25L961.87 981.85" stroke="#ffa500" stroke-width="2.9" fill="none"/>
<path d="M1007.81 952.34L1007.81 958.99M996.61 952.34L1019.01 952.34M996.61 958.99L1019.01 958.99" stroke="#ffa500" stroke-width="2.9" fill="none" clip-path="url(#cb)"/>
<path d="M992.51 955.67L1023.11 955.67M1007.81 940.37L1007.81 970.97" stroke="#ffa500" stroke-width="2.9" fill="none"/>
<path d="M1065.23 943.18L1065.23 948.36M1054.03 943.18L1076.43 943.18M1054.03 948.36L1076.43 948.36" stroke="#ffa500" stroke-width="2.9" fill="none" clip-path="url(#cb)"/>
<path d="M1049.93 945.77L1080.53 945.77M1065.23 930.47L1065.23 961.07" stroke="#ffa500" stroke-width="2.9" fill="none"/>
<path d="M1111.17 916.77L1111.17 921.33M1099.97 916.77L1122.38 916.77M1099.97 921.33L1122.38 921.33" stroke="#ffa500" stroke-width="2.9" fill="none" clip-path="url(#cb)"/>
<path d="M1095.88 919.05L1126.47 919.05M1111.17 903.75L1111.17 934.35" stroke="#ffa500" stroke-width="2.9" fill="none"/>
<path d="M1157.12 904.21L1157.12 908.17M1145.91 904.21L1168.32 904.21M1145.91 908.17L1168.32 908.17" stroke="#ffa500" stroke-width="2.9" fill="none" clip-path="url(#cb)"/>
<path d="M1141.82 906.19L1172.41 906.19M1157.12 890.89L1157.12 921.49" stroke="#ffa500" stroke-width="2.9" fill="none"/>
<path d="M1237.51 879.33L1237.51 882.58M1226.31 879.33L1248.71 879.33M1226.31 882.58L1248.71 882.58" stroke="#ffa500" stroke-width="2.9" fill="none" clip-path="url(#cb)"/>
<path d="M1222.21 880.96L1252.81 880.96M1237.51 865.66L1237.51 896.26" stroke="#ffa500" stroke-width="2.9" fill="none"/>
<path d="M1283.45 863.29L1283.45 865.97M1272.25 863.29L1294.65 863.29M1272.25 865.97L1294.65 865.97" stroke="#ffa500" stroke-width="2.9" fill="none" clip-path="url(#cb)"/>
<path d="M1268.15 864.63L1298.75 864.63M1283.45 849.33L1283.45 879.93" stroke="#ffa500" stroke-width="2.9" fill="none"/>
<path d="M1329.39 835.21L1329.39 837.64M1318.19 835.21L1340.59 835.21M1318.19 837.64L1340.59 837.64" stroke="#ffa500" stroke-width="2.9" fill="none" clip-path="url(#cb)"/>
<path d="M1314.09 836.42L1344.69 836.42M1329.39 821.12L1329.39 851.72" stroke="#ffa500" stroke-width="2.9" fill="none"/>
<path d="M234.5 1421.3L265.1 1451.9M234.5 1451.9L265.1 1421.3" stroke="#c080ff" stroke-width="2.9" fill="none"/>
<path d="M261.29 1238.69L261.29 1436.6M250.09 1238.69L272.49 1238.69" stroke="#c080ff" stroke-width="2.9" fill="none" clip-path="url(#cb)"/>
<path d="M245.99 1421.3L276.59 1451.9M245.99 1451.9L276.59 1421.3" stroke="#c080ff" stroke-width="2.9" fill="none"/>
<path d="M272.77 1271.67L272.77 1436.6M261.57 1271.67L283.97 1271.67" stroke="#c080ff" stroke-width="2.9" fill="none" clip-path="url(#cb)"/>
<path d="M257.47 1421.3L288.07 1451.9M257.47 1451.9L288.07 1421.3" stroke="#c080ff" stroke-width="2.9" fill="none"/>
<path d="M284.25 1312.9L284.25 1436.6M273.06 1312.9L295.45 1312.9" stroke="#c080ff" stroke-width="2.9" fill="none" clip-path="url(#cb)"/>
<path d="M268.95 1421.3L299.56 1451.9M268.95 1451.9L299.56 1421.3" stroke="#c080ff" stroke-width="2.9" fill="none"/>
<path d="M295.74 1337.64L295.74 1436.6M284.54 1337.64L306.94 1337.64" stroke="#c080ff" stroke-width="2.9" fill="none" clip-path="url(#cb)"/>
<path d="M280.44 1421.3L311.04 1451.9M280.44 1451.9L311.04 1421.3" stroke="#c080ff" stroke-width="2.9" fill="none"/>
<path d="M318.71 1350.55L318.71 1436.6M307.51 1350.55L329.91 1350.55" stroke="#c080ff" stroke-width="2.9" fill="none" clip-path="url(#cb)"/>
<path d="M303.41 1421.3L334.01 1451.9M303.41 1451.9L334.01 1421.3" stroke="#c080ff" stroke-width="2.9" fill="none"/>
<path d="M330.19 1365.92L330.19 1436.6M319 1365.92L341.39 1365.92" stroke="#c080ff" stroke-width="2.9" fill="none" clip-path="url(#cb)"/>
<path d="M314.89 1421.3L345.5 1451.9M314.89 1451.9L345.5 1421.3" stroke="#c080ff" stroke-width="2.9" fill="none"/>
<path d="M364.65 1351.08L364.65 1436.6M353.45 1351.08L375.85 1351.08" stroke="#c080ff" stroke-width="2.9" fill="none" clip-path="url(#cb)"/>
<path d="M349.35 1393.81L379.95 1424.41M349.35 1424.41L379.95 1393.81" stroke="#c080ff" stroke-width="2.9" fill="none"/>
<path d="M399.11 1328.37L399.11 1421.14M387.91 1328.37L410.31 1328.37M387.91 1421.14L410.31 1421.14" stroke="#c080ff" stroke-width="2.9" fill="none" clip-path="url(#cb)"/>
<path d="M383.81 1359.45L414.41 1390.05M383.81 1390.05L414.41 1359.45" stroke="#c080ff" stroke-width="2.9" fill="none"/>
<path d="M456.53 1311.19L456.53 1374.8M445.33 1311.19L467.73 1311.19M445.33 1374.8L467.73 1374.8" stroke="#c080ff" stroke-width="2.9" fill="none" clip-path="url(#cb)"/>
<path d="M441.23 1327.69L471.83 1358.29M441.23 1358.29L471.83 1327.69" stroke="#c080ff" stroke-width="2.9" fill="none"/>
<path d="M502.47 1306.29L502.47 1353.47M491.27 1306.29L513.67 1306.29M491.27 1353.47L513.67 1353.47" stroke="#c080ff" stroke-width="2.9" fill="none" clip-path="url(#cb)"/>
<path d="M487.17 1314.58L517.77 1345.18M487.17 1345.18L517.77 1314.58" stroke="#c080ff" stroke-width="2.9" fill="none"/>
<path d="M571.38 1293L571.38 1324.14M560.18 1293L582.58 1293M560.18 1324.14L582.58 1324.14" stroke="#c080ff" stroke-width="2.9" fill="none" clip-path="url(#cb)"/>
<path d="M556.08 1293.27L586.68 1323.87M556.08 1323.87L586.68 1293.27" stroke="#c080ff" stroke-width="2.9" fill="none"/>
<path d="M640.29 1278.09L640.29 1299.42M629.09 1278.09L651.49 1278.09M629.09 1299.42L651.49 1299.42" stroke="#c080ff" stroke-width="2.9" fill="none" clip-path="url(#cb)"/>
<path d="M624.99 1273.46L655.59 1304.06M624.99 1304.06L655.59 1273.46" stroke="#c080ff" stroke-width="2.9" fill="none"/>
<path d="M709.2 1270.3L709.2 1286.23M698 1270.3L720.4 1270.3M698 1286.23L720.4 1286.23" stroke="#c080ff" stroke-width="2.9" fill="none" clip-path="url(#cb)"/>
<path d="M693.9 1262.97L724.5 1293.57M693.9 1293.57L724.5 1262.97" stroke="#c080ff" stroke-width="2.9" fill="none"/>
<path d="M778.11 1259.16L778.11 1270.85M766.91 1259.16L789.31 1259.16M766.91 1270.85L789.31 1270.85" stroke="#c080ff" stroke-width="2.9" fill="none" clip-path="url(#cb)"/>
<path d="M762.81 1249.71L793.41 1280.31M762.81 1280.31L793.41 1249.71" stroke="#c080ff" stroke-width="2.9" fill="none"/>
<path d="M847.02 1244.8L847.02 1253.55M835.82 1244.8L858.22 1244.8M835.82 1253.55L858.22 1253.55" stroke="#c080ff" stroke-width="2.9" fill="none" clip-path="url(#cb)"/>
<path d="M831.72 1233.88L862.32 1264.48M831.72 1264.48L862.32 1233.88" stroke="#c080ff" stroke-width="2.9" fill="none"/>
<path d="M892.96 1232.3L892.96 1239.62M881.76 1232.3L904.16 1232.3M881.76 1239.62L904.16 1239.62" stroke="#c080ff" stroke-width="2.9" fill="none" clip-path="url(#cb)"/>
<path d="M877.66 1220.66L908.26 1251.26M877.66 1251.26L908.26 1220.66" stroke="#c080ff" stroke-width="2.9" fill="none"/>
<path d="M961.87 1219.04L961.87 1224.89M950.67 1219.04L973.07 1219.04M950.67 1224.89L973.07 1224.89" stroke="#c080ff" stroke-width="2.9" fill="none" clip-path="url(#cb)"/>
<path d="M946.57 1206.66L977.17 1237.26M946.57 1237.26L977.17 1206.66" stroke="#c080ff" stroke-width="2.9" fill="none"/>
<path d="M1007.81 1211.65L1007.81 1216.54M996.61 1211.65L1019.01 1211.65M996.61 1216.54L1019.01 1216.54" stroke="#c080ff" stroke-width="2.9" fill="none" clip-path="url(#cb)"/>
<path d="M992.51 1198.79L1023.11 1229.39M992.51 1229.39L1023.11 1198.79" stroke="#c080ff" stroke-width="2.9" fill="none"/>
<path d="M1065.23 1206.36L1065.23 1210.16M1054.03 1206.36L1076.43 1206.36M1054.03 1210.16L1076.43 1210.16" stroke="#c080ff" stroke-width="2.9" fill="none" clip-path="url(#cb)"/>
<path d="M1049.93 1192.96L1080.53 1223.56M1049.93 1223.56L1080.53 1192.96" stroke="#c080ff" stroke-width="2.9" fill="none"/>
<path d="M1111.17 1189.52L1111.17 1192.85M1099.97 1189.52L1122.38 1189.52M1099.97 1192.85L1122.38 1192.85" stroke="#c080ff" stroke-width="2.9" fill="none" clip-path="url(#cb)"/>
<path d="M1095.88 1175.89L1126.47 1206.49M1095.88 1206.49L1126.47 1175.89" stroke="#c080ff" stroke-width="2.9" fill="none"/>
<path d="M1157.12 1182.57L1157.12 1185.46M1145.91 1182.57L1168.32 1182.57M1145.91 1185.46L1168.32 1185.46" stroke="#c080ff" stroke-width="2.9" fill="none" clip-path="url(#cb)"/>
<path d="M1141.82 1168.71L1172.41 1199.31M1141.82 1199.31L1172.41 1168.71" stroke="#c080ff" stroke-width="2.9" fill="none"/>
<path d="M1237.51 1168.24L1237.51 1170.6M1226.31 1168.24L1248.71 1168.24M1226.31 1170.6L1248.71 1170.6" stroke="#c080ff" stroke-width="2.9" fill="none" clip-path="url(#cb)"/>
<path d="M1222.21 1154.12L1252.81 1184.72M1222.21 1184.72L1252.81 1154.12" stroke="#c080ff" stroke-width="2.9" fill="none"/>
<path d="M1283.45 1160.53L1283.45 1162.47M1272.25 1160.53L1294.65 1160.53M1272.25 1162.47L1294.65 1162.47" stroke="#c080ff" stroke-width="2.9" fill="none" clip-path="url(#cb)"/>
<path d="M1268.15 1146.2L1298.75 1176.8M1268.15 1176.8L1298.75 1146.2" stroke="#c080ff" stroke-width="2.9" fill="none"/>
<path d="M1329.39 1141.43L1329.39 1143.18M1318.19 1141.43L1340.59 1141.43M1318.19 1143.18L1340.59 1143.18" stroke="#c080ff" stroke-width="2.9" fill="none" clip-path="url(#cb)"/>
<path d="M1314.09 1127L1344.69 1157.6M1314.09 1157.6L1344.69 1127" stroke="#c080ff" stroke-width="2.9" fill="none"/>
<path d="M245.99 1421.3L276.59 1451.9M245.99 1451.9L276.59 1421.3M245.99 1436.6L276.59 1436.6M261.29 1421.3L261.29 1451.9" stroke="#00a5a5" stroke-width="2.9" fill="none"/>
<path d="M257.47 1421.3L288.07 1451.9M257.47 1451.9L288.07 1421.3M257.47 1436.6L288.07 1436.6M272.77 1421.3L272.77 1451.9" stroke="#00a5a5" stroke-width="2.9" fill="none"/>
<path d="M268.95 1421.3L299.56 1451.9M268.95 1451.9L299.56 1421.3M268.95 1436.6L299.56 1436.6M284.25 1421.3L284.25 1451.9" stroke="#00a5a5" stroke-width="2.9" fill="none"/>
<path d="M280.44 1421.3L311.04 1451.9M280.44 1451.9L311.04 1421.3M280.44 1436.6L311.04 1436.6M295.74 1421.3L295.74 1451.9" stroke="#00a5a5" stroke-width="2.9" fill="none"/>
<path d="M318.71 1216.7L318.71 1436.6M307.51 1216.7L329.91 1216.7" stroke="#00a5a5" stroke-width="2.9" fill="none" clip-path="url(#cb)"/>
<path d="M303.41 1421.3L334.01 1451.9M303.41 1451.9L334.01 1421.3M303.41 1436.6L334.01 1436.6M318.71 1421.3L318.71 1451.9" stroke="#00a5a5" stroke-width="2.9" fill="none"/>
<path d="M330.19 1271.67L330.19 1436.6M319 1271.67L341.39 1271.67" stroke="#00a5a5" stroke-width="2.9" fill="none" clip-path="url(#cb)"/>
<path d="M314.89 1421.3L345.5 1451.9M314.89 1451.9L345.5 1421.3M314.89 1436.6L345.5 1436.6M330.19 1421.3L330.19 1451.9" stroke="#00a5a5" stroke-width="2.9" fill="none"/>
<path d="M364.65 1259.45L364.65 1436.6M353.45 1259.45L375.85 1259.45" stroke="#00a5a5" stroke-width="2.9" fill="none" clip-path="url(#cb)"/>
<path d="M349.35 1366.32L379.95 1396.92M349.35 1396.92L379.95 1366.32M349.35 1381.62L379.95 1381.62M364.65 1366.32L364.65 1396.92" stroke="#00a5a5" stroke-width="2.9" fill="none"/>
<path d="M399.11 1237.06L399.11 1416.24M387.91 1237.06L410.31 1237.06M387.91 1416.24L410.31 1416.24" stroke="#00a5a5" stroke-width="2.9" fill="none" clip-path="url(#cb)"/>
<path d="M383.81 1311.35L414.41 1341.95M383.81 1341.95L414.41 1311.35M383.81 1326.65L414.41 1326.65M399.11 1311.35L399.11 1341.95" stroke="#00a5a5" stroke-width="2.9" fill="none"/>
<path d="M456.53 1229.89L456.53 1342.13M445.33 1229.89L467.73 1229.89M445.33 1342.13L467.73 1342.13" stroke="#00a5a5" stroke-width="2.9" fill="none" clip-path="url(#cb)"/>
<path d="M441.23 1270.71L471.83 1301.31M441.23 1301.31L471.83 1270.71M441.23 1286.01L471.83 1286.01M456.53 1270.71L456.53 1301.31" stroke="#00a5a5" stroke-width="2.9" fill="none"/>
<path d="M502.47 1238L502.47 1315.04M491.27 1238L513.67 1238M491.27 1315.04L513.67 1315.04" stroke="#00a5a5" stroke-width="2.9" fill="none" clip-path="url(#cb)"/>
<path d="M487.17 1261.22L517.77 1291.82M487.17 1291.82L517.77 1261.22M487.17 1276.52L517.77 1276.52M502.47 1261.22L502.47 1291.82" stroke="#00a5a5" stroke-width="2.9" fill="none"/>
<path d="M571.38 1233.25L571.38 1280.58M560.18 1233.25L582.58 1233.25M560.18 1280.58L582.58 1280.58" stroke="#00a5a5" stroke-width="2.9" fill="none" clip-path="url(#cb)"/>
<path d="M556.08 1241.61L586.68 1272.21M556.08 1272.21L586.68 1241.61M556.08 1256.91L586.68 1256.91M571.38 1241.61L571.38 1272.21" stroke="#00a5a5" stroke-width="2.9" fill="none"/>
<path d="M640.29 1226.17L640.29 1256.43M629.09 1226.17L651.49 1226.17M629.09 1256.43L651.49 1256.43" stroke="#00a5a5" stroke-width="2.9" fill="none" clip-path="url(#cb)"/>
<path d="M624.99 1226L655.59 1256.6M624.99 1256.6L655.59 1226M624.99 1241.3L655.59 1241.3M640.29 1226L640.29 1256.6" stroke="#00a5a5" stroke-width="2.9" fill="none"/>
<path d="M709.2 1224.9L709.2 1246.44M698 1224.9L720.4 1224.9M698 1246.44L720.4 1246.44" stroke="#00a5a5" stroke-width="2.9" fill="none" clip-path="url(#cb)"/>
<path d="M693.9 1220.37L724.5 1250.97M693.9 1250.97L724.5 1220.37M693.9 1235.67L724.5 1235.67M709.2 1220.37L709.2 1250.97" stroke="#00a5a5" stroke-width="2.9" fill="none"/>
<path d="M778.11 1225.68L778.11 1240.23M766.91 1225.68L789.31 1225.68M766.91 1240.23L789.31 1240.23" stroke="#00a5a5" stroke-width="2.9" fill="none" clip-path="url(#cb)"/>
<path d="M762.81 1217.65L793.41 1248.25M762.81 1248.25L793.41 1217.65M762.81 1232.95L793.41 1232.95M778.11 1217.65L778.11 1248.25" stroke="#00a5a5" stroke-width="2.9" fill="none"/>
<path d="M847.02 1219.21L847.02 1229.47M835.82 1219.21L858.22 1219.21M835.82 1229.47L858.22 1229.47" stroke="#00a5a5" stroke-width="2.9" fill="none" clip-path="url(#cb)"/>
<path d="M831.72 1209.04L862.32 1239.64M831.72 1239.64L862.32 1209.04M831.72 1224.34L862.32 1224.34M847.02 1209.04L847.02 1239.64" stroke="#00a5a5" stroke-width="2.9" fill="none"/>
<path d="M892.96 1213.78L892.96 1221.97M881.76 1213.78L904.16 1213.78M881.76 1221.97L904.16 1221.97" stroke="#00a5a5" stroke-width="2.9" fill="none" clip-path="url(#cb)"/>
<path d="M877.66 1202.58L908.26 1233.18M877.66 1233.18L908.26 1202.58M877.66 1217.88L908.26 1217.88M892.96 1202.58L892.96 1233.18" stroke="#00a5a5" stroke-width="2.9" fill="none"/>
<path d="M961.87 1207.54L961.87 1213.79M950.67 1207.54L973.07 1207.54M950.67 1213.79L973.07 1213.79" stroke="#00a5a5" stroke-width="2.9" fill="none" clip-path="url(#cb)"/>
<path d="M946.57 1195.37L977.17 1225.97M946.57 1225.97L977.17 1195.37M946.57 1210.67L977.17 1210.67M961.87 1195.37L961.87 1225.97" stroke="#00a5a5" stroke-width="2.9" fill="none"/>
<path d="M1007.81 1205.15L1007.81 1210.22M996.61 1205.15L1019.01 1205.15M996.61 1210.22L1019.01 1210.22" stroke="#00a5a5" stroke-width="2.9" fill="none" clip-path="url(#cb)"/>
<path d="M992.51 1192.39L1023.11 1222.99M992.51 1222.99L1023.11 1192.39M992.51 1207.69L1023.11 1207.69M1007.81 1192.39L1007.81 1222.99" stroke="#00a5a5" stroke-width="2.9" fill="none"/>
<path d="M1065.23 1204.49L1065.23 1208.34M1054.03 1204.49L1076.43 1204.49M1054.03 1208.34L1076.43 1208.34" stroke="#00a5a5" stroke-width="2.9" fill="none" clip-path="url(#cb)"/>
<path d="M1049.93 1191.11L1080.53 1221.71M1049.93 1221.71L1080.53 1191.11M1049.93 1206.41L1080.53 1206.41M1065.23 1191.11L1065.23 1221.71" stroke="#00a5a5" stroke-width="2.9" fill="none"/>
<path d="M1111.17 1200.41L1111.17 1203.55M1099.97 1200.41L1122.38 1200.41M1099.97 1203.55L1122.38 1203.55" stroke="#00a5a5" stroke-width="2.9" fill="none" clip-path="url(#cb)"/>
<path d="M1095.88 1186.68L1126.47 1217.28M1095.88 1217.28L1126.47 1186.68M1095.88 1201.98L1126.47 1201.98M1111.17 1186.68L1111.17 1217.28" stroke="#00a5a5" stroke-width="2.9" fill="none"/>
<path d="M1157.12 1199.66L1157.12 1202.29M1145.91 1199.66L1168.32 1199.66M1145.91 1202.29L1168.32 1202.29" stroke="#00a5a5" stroke-width="2.9" fill="none" clip-path="url(#cb)"/>
<path d="M1141.82 1185.68L1172.41 1216.28M1141.82 1216.28L1172.41 1185.68M1141.82 1200.98L1172.41 1200.98M1157.12 1185.68L1157.12 1216.28" stroke="#00a5a5" stroke-width="2.9" fill="none"/>
<path d="M1237.51 1197.67L1237.51 1199.69M1226.31 1197.67L1248.71 1197.67M1226.31 1199.69L1248.71 1199.69" stroke="#00a5a5" stroke-width="2.9" fill="none" clip-path="url(#cb)"/>
<path d="M1222.21 1183.38L1252.81 1213.98M1222.21 1213.98L1252.81 1183.38M1222.21 1198.68L1252.81 1198.68M1237.51 1183.38L1237.51 1213.98" stroke="#00a5a5" stroke-width="2.9" fill="none"/>
<path d="M1283.45 1197.83L1283.45 1199.42M1272.25 1197.83L1294.65 1197.83M1272.25 1199.42L1294.65 1199.42" stroke="#00a5a5" stroke-width="2.9" fill="none" clip-path="url(#cb)"/>
<path d="M1268.15 1183.32L1298.75 1213.92M1268.15 1213.92L1298.75 1183.32M1268.15 1198.62L1298.75 1198.62M1283.45 1183.32L1283.45 1213.92" stroke="#00a5a5" stroke-width="2.9" fill="none"/>
<path d="M1329.39 1193.31L1329.39 1194.65M1318.19 1193.31L1340.59 1193.31M1318.19 1194.65L1340.59 1194.65" stroke="#00a5a5" stroke-width="2.9" fill="none" clip-path="url(#cb)"/>
<path d="M1314.09 1178.68L1344.69 1209.28M1314.09 1209.28L1344.69 1178.68M1314.09 1193.98L1344.69 1193.98M1329.39 1178.68L1329.39 1209.28" stroke="#00a5a5" stroke-width="2.9" fill="none"/>
<path d="M266.05 1441.83L266.17 1439.44L266.28 1437.09L266.4 1434.78L266.51 1432.51L266.63 1430.28L266.74 1428.08L266.86 1425.92L266.97 1423.8L267.09 1421.71L267.2 1419.65L267.32 1417.63L267.43 1415.64L267.55 1413.68L267.66 1411.75L267.78 1409.85L267.89 1407.97L268.01 1406.13L268.12 1404.32L268.24 1402.53L268.35 1400.77L268.47 1399.03L268.58 1397.32L268.7 1395.63L268.81 1393.97L268.93 1392.33L269.04 1390.72L269.16 1389.12L269.28 1387.55L269.39 1386L269.51 1384.48L269.62 1382.97L269.85 1380.02L270.08 1377.14L270.31 1374.34L270.54 1371.61L270.77 1368.95L271 1366.36L271.23 1363.83L271.46 1361.37L271.69 1358.96L271.92 1356.61L272.15 1354.31L272.38 1352.07L272.61 1349.88L272.84 1347.74L273.07 1345.64L273.3 1343.6L273.54 1341.59L273.77 1339.63L274 1337.71L274.23 1335.84L274.46 1334L274.69 1332.2L274.92 1330.43L275.15 1328.7L275.38 1327.01L275.61 1325.34L275.84 1323.71L276.07 1322.12L276.3 1320.55L276.53 1319.01L276.76 1317.5L276.99 1316.02L277.33 1313.84L277.68 1311.73L278.03 1309.67L278.37 1307.66L278.72 1305.71L279.06 1303.8L279.41 1301.95L279.75 1300.13L280.1 1298.37L280.44 1296.64L280.79 1294.95L281.13 1293.31L281.48 1291.7L281.83 1290.12L282.17 1288.58L282.52 1287.08L282.86 1285.61L283.32 1283.69L283.78 1281.83L284.24 1280.02L284.7 1278.26L285.16 1276.55L285.62 1274.87L286.09 1273.25L286.55 1271.66L287.01 1270.11L287.47 1268.61L287.93 1267.13L288.39 1265.69L288.96 1263.94L289.54 1262.24L290.12 1260.59L290.69 1258.98L291.27 1257.42L291.84 1255.9L292.42 1254.41L292.99 1252.97L293.57 1251.56L294.26 1249.91L294.95 1248.31L295.64 1246.76L296.33 1245.25L297.02 1243.78L297.71 1242.35L298.41 1240.96L299.1 1239.61L299.9 1238.07L300.71 1236.57L301.51 1235.12L302.32 1233.7L303.13 1232.33L303.93 1230.99L304.74 1229.68L305.54 1228.41L306.46 1226.99L307.39 1225.61L308.31 1224.27L309.23 1222.97L310.15 1221.69L311.07 1220.45L311.99 1219.24L314.54 1216.03L317.09 1213.02L319.64 1210.18L322.19 1207.5L324.74 1204.95L327.29 1202.52L329.84 1200.21L332.39 1197.99L334.94 1195.87L337.49 1193.83L340.04 1191.86L342.59 1189.96L345.14 1188.12L347.69 1186.34L350.24 1184.62L352.79 1182.94L355.34 1181.31L357.89 1179.72L360.44 1178.17L362.99 1176.65L365.54 1175.17L368.09 1173.72L370.64 1172.3L373.19 1170.91L375.74 1169.54L378.29 1168.2L380.84 1166.88L383.39 1165.58L385.94 1164.3L388.49 1163.04L391.04 1161.8L393.59 1160.58L396.14 1159.37L398.69 1158.17L401.24 1156.99L403.79 1155.83L406.34 1154.68L408.89 1153.53L411.44 1152.41L413.99 1151.29L416.54 1150.18L419.09 1149.08L421.64 1148L424.19 1146.92L426.74 1145.85L429.29 1144.79L431.84 1143.73L434.39 1142.69L436.93 1141.65L439.48 1140.62L442.03 1139.59L444.58 1138.57L447.13 1137.56L449.68 1136.55L452.23 1135.55L454.78 1134.56L457.33 1133.57L459.88 1132.58L462.43 1131.6L464.98 1130.63L467.53 1129.66L470.08 1128.69L472.63 1127.73L475.18 1126.77L477.73 1125.81L480.28 1124.86L482.83 1123.91L485.38 1122.97L487.93 1122.03L490.48 1121.09L493.03 1120.16L495.58 1119.23L498.13 1118.3L500.68 1117.37L503.23 1116.45L505.78 1115.53L508.33 1114.61L510.88 1113.7L513.43 1112.79L515.98 1111.88L518.53 1110.97L521.08 1110.06L523.63 1109.16L526.18 1108.26L528.73 1107.36L531.28 1106.46L533.83 1105.56L536.38 1104.67L538.93 1103.78L541.48 1102.89L544.03 1102L546.58 1101.11L549.13 1100.22L551.68 1099.34L554.23 1098.46L556.78 1097.58L559.33 1096.7L561.88 1095.82L564.43 1094.94L566.98 1094.07L569.53 1093.19L572.08 1092.32L574.63 1091.45L577.18 1090.58L579.73 1089.71L582.28 1088.84L584.83 1087.97L587.38 1087.1L589.93 1086.24L592.48 1085.37L595.03 1084.51L597.58 1083.65L600.13 1082.79L602.68 1081.93L605.23 1081.07L607.78 1080.21L610.33 1079.35L612.88 1078.49L615.43 1077.64L617.98 1076.78L620.53 1075.93L623.08 1075.07L625.63 1074.22L628.18 1073.37L630.73 1072.52L633.28 1071.67L635.82 1070.82L638.37 1069.97L640.92 1069.12L643.47 1068.27L646.02 1067.42L648.57 1066.58L651.12 1065.73L653.67 1064.88L656.22 1064.04L658.77 1063.19L661.32 1062.35L663.87 1061.51L666.42 1060.66L668.97 1059.82L671.52 1058.98L674.07 1058.14L676.62 1057.3L679.17 1056.46L681.72 1055.62L684.27 1054.78L686.82 1053.94L689.37 1053.1L691.92 1052.26L694.47 1051.42L697.02 1050.59L699.57 1049.75L702.12 1048.91L704.67 1048.08L707.22 1047.24L709.77 1046.41L712.32 1045.57L714.87 1044.74L717.42 1043.9L719.97 1043.07L722.52 1042.24L725.07 1041.4L727.62 1040.57L730.17 1039.74L732.72 1038.91L735.27 1038.07L737.82 1037.24L740.37 1036.41L742.92 1035.58L745.47 1034.75L748.02 1033.92L750.57 1033.09L753.12 1032.26L755.67 1031.43L758.22 1030.61L760.77 1029.78L763.32 1028.95L765.87 1028.12L768.42 1027.29L770.97 1026.47L773.52 1025.64L776.07 1024.81L778.62 1023.99L781.17 1023.16L783.72 1022.34L786.27 1021.51L788.82 1020.69L791.37 1019.86L793.92 1019.04L796.47 1018.21L799.02 1017.39L801.57 1016.56L804.12 1015.74L806.67 1014.92L809.22 1014.09L811.77 1013.27L814.32 1012.45L816.87 1011.63L819.42 1010.8L821.97 1009.98L824.52 1009.16L827.07 1008.34L829.62 1007.52L832.17 1006.7L834.71 1005.88L837.26 1005.05L839.81 1004.23L842.36 1003.41L844.91 1002.59L847.46 1001.77L850.01 1000.95L852.56 1000.14L855.11 999.32L857.66 998.5L860.21 997.68L862.76 996.86L865.31 996.04L867.86 995.22L870.41 994.41L872.96 993.59L875.51 992.77L878.06 991.95L880.61 991.14L883.16 990.32L885.71 989.5L888.26 988.69L890.81 987.87L893.36 987.06L895.91 986.24L898.46 985.43L901.01 984.61L903.56 983.79L906.11 982.98L908.66 982.17L911.21 981.35L913.76 980.54L916.31 979.72L918.86 978.91L921.41 978.09L923.96 977.28L926.51 976.47L929.06 975.65L931.61 974.84L934.16 974.03L936.71 973.22L939.26 972.4L941.81 971.59L944.36 970.78L946.91 969.97L949.46 969.16L952.01 968.34L954.56 967.53L957.11 966.72L959.66 965.91L962.21 965.1L964.76 964.29L967.31 963.48L969.86 962.67L972.41 961.86L974.96 961.05L977.51 960.24L980.06 959.43L982.61 958.62L985.16 957.81L987.71 957.01L990.26 956.2L992.81 955.39L995.36 954.58L997.91 953.77L1000.46 952.96L1003.01 952.16L1005.56 951.35L1008.11 950.54L1010.66 949.73L1013.21 948.93L1015.76 948.12L1018.31 947.31L1020.86 946.51L1023.41 945.7L1025.96 944.9L1028.51 944.09L1031.06 943.28L1033.6 942.48L1036.15 941.67L1038.7 940.87L1041.25 940.06L1043.8 939.26L1046.35 938.46L1048.9 937.65L1051.45 936.85L1054 936.04L1056.55 935.24L1059.1 934.44L1061.65 933.63L1064.2 932.83L1066.75 932.03L1069.3 931.22L1071.85 930.42L1074.4 929.62L1076.95 928.82L1079.5 928.02L1082.05 927.21L1084.6 926.41L1087.15 925.61L1089.7 924.81L1092.25 924.01L1094.8 923.21L1097.35 922.41L1099.9 921.61L1102.45 920.81L1105 920.01L1107.55 919.21L1110.1 918.41L1112.65 917.61L1115.2 916.81L1117.75 916.01L1120.3 915.21L1122.85 914.41L1125.4 913.62L1127.95 912.82L1130.5 912.02L1133.05 911.22L1135.6 910.42L1138.15 909.63L1140.7 908.83L1143.25 908.03L1145.8 907.24L1148.35 906.44L1150.9 905.64L1153.45 904.85L1156 904.05L1158.55 903.25L1161.1 902.46L1163.65 901.66L1166.2 900.87L1168.75 900.07L1171.3 899.28L1173.85 898.48L1176.4 897.69L1178.95 896.9L1181.5 896.1L1184.05 895.31L1186.6 894.52L1189.15 893.72L1191.7 892.93L1194.25 892.14L1196.8 891.34L1199.35 890.55L1201.9 889.76L1204.45 888.97L1207 888.17L1209.55 887.38L1212.1 886.59L1214.65 885.8L1217.2 885.01L1219.75 884.22L1222.3 883.43L1224.85 882.64L1227.4 881.85L1229.95 881.06L1232.49 880.27L1235.04 879.48L1237.59 878.69L1240.14 877.9L1242.69 877.11L1245.24 876.32L1247.79 875.54L1250.34 874.75L1252.89 873.96L1255.44 873.17L1257.99 872.38L1260.54 871.6L1263.09 870.81L1265.64 870.02L1268.19 869.24L1270.74 868.45L1273.29 867.66L1275.84 866.88L1278.39 866.09L1280.94 865.31L1283.49 864.52L1286.04 863.74L1288.59 862.95L1291.14 862.17L1293.69 861.38L1296.24 860.6L1298.79 859.81L1301.34 859.03L1303.89 858.25L1306.44 857.46L1308.99 856.68L1311.54 855.9L1314.09 855.12L1316.64 854.33L1319.19 853.55L1321.74 852.77L1324.29 851.99L1326.84 851.21L1329.39 850.43" stroke="#ffa500" stroke-width="7.8" fill="none" stroke-linejoin="round" clip-path="url(#cb)"/>
<path d="M299.82 1441.56L300.85 1440.27L301.89 1439L302.93 1437.75L303.96 1436.52L305 1435.32L306.03 1434.13L307.07 1432.96L308.11 1431.82L309.14 1430.69L310.18 1429.58L311.22 1428.48L312.37 1427.28L313.52 1426.11L314.67 1424.95L315.82 1423.81L316.97 1422.69L318.12 1421.59L319.28 1420.51L320.43 1419.44L321.58 1418.39L322.73 1417.35L323.88 1416.33L325.03 1415.33L326.18 1414.34L327.34 1413.36L328.49 1412.4L329.75 1411.36L331.02 1410.33L332.29 1409.31L333.55 1408.32L334.82 1407.33L336.09 1406.36L337.35 1405.41L338.62 1404.46L339.89 1403.54L341.15 1402.62L342.42 1401.71L343.68 1400.82L344.95 1399.94L348.22 1397.71L350.69 1396.08L353.15 1394.48L355.62 1392.93L358.08 1391.4L360.55 1389.91L363.01 1388.45L365.48 1387.02L367.94 1385.62L370.41 1384.24L372.87 1382.89L375.34 1381.57L377.81 1380.27L380.27 1378.99L382.74 1377.74L385.2 1376.5L387.67 1375.29L390.13 1374.09L392.6 1372.91L395.06 1371.75L397.53 1370.61L399.99 1369.49L402.46 1368.38L404.92 1367.28L407.39 1366.2L409.85 1365.14L412.32 1364.09L414.78 1363.05L417.25 1362.02L419.71 1361.01L422.18 1360.01L424.65 1359.02L427.11 1358.04L429.58 1357.07L432.04 1356.11L434.51 1355.17L436.97 1354.23L439.44 1353.3L441.9 1352.38L444.37 1351.47L446.83 1350.57L449.3 1349.68L451.76 1348.79L454.23 1347.92L456.69 1347.05L459.16 1346.19L461.62 1345.33L464.09 1344.48L466.55 1343.64L469.02 1342.81L471.48 1341.98L473.95 1341.16L476.42 1340.34L478.88 1339.53L481.35 1338.73L483.81 1337.93L486.28 1337.14L488.74 1336.35L491.21 1335.57L493.67 1334.79L496.14 1334.02L498.6 1333.25L501.07 1332.49L503.53 1331.73L506 1330.98L508.46 1330.23L510.93 1329.48L513.39 1328.74L515.86 1328L518.32 1327.27L520.79 1326.54L523.25 1325.82L525.72 1325.09L528.19 1324.38L530.65 1323.66L533.12 1322.95L535.58 1322.24L538.05 1321.54L540.51 1320.84L542.98 1320.14L545.44 1319.44L547.91 1318.75L550.37 1318.06L552.84 1317.37L555.3 1316.69L557.77 1316.01L560.23 1315.33L562.7 1314.65L565.16 1313.98L567.63 1313.31L570.09 1312.64L572.56 1311.98L575.02 1311.31L577.49 1310.65L579.96 1310L582.42 1309.34L584.89 1308.69L587.35 1308.03L589.82 1307.38L592.28 1306.74L594.75 1306.09L597.21 1305.45L599.68 1304.81L602.14 1304.17L604.61 1303.53L607.07 1302.89L609.54 1302.26L612 1301.63L614.47 1301L616.93 1300.37L619.4 1299.74L621.86 1299.11L624.33 1298.49L626.8 1297.87L629.26 1297.25L631.73 1296.63L634.19 1296.01L636.66 1295.4L639.12 1294.78L641.59 1294.17L644.05 1293.56L646.52 1292.95L648.98 1292.34L651.45 1291.73L653.91 1291.13L656.38 1290.52L658.84 1289.92L661.31 1289.32L663.77 1288.72L666.24 1288.12L668.7 1287.52L671.17 1286.93L673.63 1286.33L676.1 1285.74L678.57 1285.14L681.03 1284.55L683.5 1283.96L685.96 1283.37L688.43 1282.78L690.89 1282.19L693.36 1281.61L695.82 1281.02L698.29 1280.44L700.75 1279.86L703.22 1279.27L705.68 1278.69L708.15 1278.11L710.61 1277.53L713.08 1276.96L715.54 1276.38L718.01 1275.8L720.47 1275.23L722.94 1274.65L725.4 1274.08L727.87 1273.51L730.34 1272.93L732.8 1272.36L735.27 1271.79L737.73 1271.23L740.2 1270.66L742.66 1270.09L745.13 1269.52L747.59 1268.96L750.06 1268.39L752.52 1267.83L754.99 1267.27L757.45 1266.7L759.92 1266.14L762.38 1265.58L764.85 1265.02L767.31 1264.46L769.78 1263.9L772.24 1263.35L774.71 1262.79L777.18 1262.23L779.64 1261.68L782.11 1261.12L784.57 1260.57L787.04 1260.01L789.5 1259.46L791.97 1258.91L794.43 1258.36L796.9 1257.81L799.36 1257.26L801.83 1256.71L804.29 1256.16L806.76 1255.61L809.22 1255.06L811.69 1254.52L814.15 1253.97L816.62 1253.42L819.08 1252.88L821.55 1252.33L824.01 1251.79L826.48 1251.25L828.95 1250.7L831.41 1250.16L833.88 1249.62L836.34 1249.08L838.81 1248.54L841.27 1248L843.74 1247.46L846.2 1246.92L848.67 1246.39L851.13 1245.85L853.6 1245.31L856.06 1244.78L858.53 1244.24L860.99 1243.7L863.46 1243.17L865.92 1242.64L868.39 1242.1L870.85 1241.57L873.32 1241.04L875.78 1240.5L878.25 1239.97L880.72 1239.44L883.18 1238.91L885.65 1238.38L888.11 1237.85L890.58 1237.32L893.04 1236.79L895.51 1236.27L897.97 1235.74L900.44 1235.21L902.9 1234.69L905.37 1234.16L907.83 1233.63L910.3 1233.11L912.76 1232.58L915.23 1232.06L917.69 1231.54L920.16 1231.01L922.62 1230.49L925.09 1229.97L927.56 1229.45L930.02 1228.93L932.49 1228.4L934.95 1227.88L937.42 1227.36L939.88 1226.84L942.35 1226.33L944.81 1225.81L947.28 1225.29L949.74 1224.77L952.21 1224.25L954.67 1223.74L957.14 1223.22L959.6 1222.7L962.07 1222.19L964.53 1221.67L967 1221.16L969.46 1220.64L971.93 1220.13L974.39 1219.62L976.86 1219.1L979.33 1218.59L981.79 1218.08L984.26 1217.57L986.72 1217.05L989.19 1216.54L991.65 1216.03L994.12 1215.52L996.58 1215.01L999.05 1214.5L1001.51 1213.99L1003.98 1213.49L1006.44 1212.98L1008.91 1212.47L1011.37 1211.96L1013.84 1211.45L1016.3 1210.95L1018.77 1210.44L1021.23 1209.94L1023.7 1209.43L1026.16 1208.92L1028.63 1208.42L1031.1 1207.92L1033.56 1207.41L1036.03 1206.91L1038.49 1206.4L1040.96 1205.9L1043.42 1205.4L1045.89 1204.9L1048.35 1204.4L1050.82 1203.89L1053.28 1203.39L1055.75 1202.89L1058.21 1202.39L1060.68 1201.89L1063.14 1201.39L1065.61 1200.89L1068.07 1200.39L1070.54 1199.9L1073 1199.4L1075.47 1198.9L1077.93 1198.4L1080.4 1197.91L1082.87 1197.41L1085.33 1196.91L1087.8 1196.42L1090.26 1195.92L1092.73 1195.43L1095.19 1194.93L1097.66 1194.44L1100.12 1193.94L1102.59 1193.45L1105.05 1192.96L1107.52 1192.46L1109.98 1191.97L1112.45 1191.48L1114.91 1190.98L1117.38 1190.49L1119.84 1190L1122.31 1189.51L1124.77 1189.02L1127.24 1188.53L1129.71 1188.04L1132.17 1187.55L1134.64 1187.06L1137.1 1186.57L1139.57 1186.08L1142.03 1185.59L1144.5 1185.11L1146.96 1184.62L1149.43 1184.13L1151.89 1183.64L1154.36 1183.16L1156.82 1182.67L1159.29 1182.19L1161.75 1181.7L1164.22 1181.21L1166.68 1180.73L1169.15 1180.24L1171.61 1179.76L1174.08 1179.28L1176.54 1178.79L1179.01 1178.31L1181.48 1177.83L1183.94 1177.34L1186.41 1176.86L1188.87 1176.38L1191.34 1175.9L1193.8 1175.42L1196.27 1174.94L1198.73 1174.45L1201.2 1173.97L1203.66 1173.49L1206.13 1173.01L1208.59 1172.53L1211.06 1172.06L1213.52 1171.58L1215.99 1171.1L1218.45 1170.62L1220.92 1170.14L1223.38 1169.66L1225.85 1169.19L1228.31 1168.71L1230.78 1168.23L1233.25 1167.76L1235.71 1167.28L1238.18 1166.81L1240.64 1166.33L1243.11 1165.86L1245.57 1165.38L1248.04 1164.91L1250.5 1164.43L1252.97 1163.96L1255.43 1163.49L1257.9 1163.01L1260.36 1162.54L1262.83 1162.07L1265.29 1161.6L1267.76 1161.12L1270.22 1160.65L1272.69 1160.18L1275.15 1159.71L1277.62 1159.24L1280.09 1158.77L1282.55 1158.3L1285.02 1157.83L1287.48 1157.36L1289.95 1156.89L1292.41 1156.42L1294.88 1155.95L1297.34 1155.49L1299.81 1155.02L1302.27 1154.55L1304.74 1154.08L1307.2 1153.62L1309.67 1153.15L1312.13 1152.68L1314.6 1152.22L1317.06 1151.75L1319.53 1151.29L1321.99 1150.82L1324.46 1150.36L1326.92 1149.89L1329.39 1149.43" stroke="#c080ff" stroke-width="7.8" fill="none" stroke-linejoin="round" clip-path="url(#cb)"/>
<path d="M306.25 1441.65L306.94 1440.07L307.63 1438.5L308.32 1436.95L309.01 1435.42L309.7 1433.91L310.39 1432.42L311.08 1430.94L311.78 1429.49L312.47 1428.05L313.16 1426.63L313.85 1425.22L314.54 1423.83L315.23 1422.46L315.92 1421.1L316.61 1419.75L317.42 1418.21L318.22 1416.68L319.03 1415.17L319.84 1413.68L320.64 1412.22L321.45 1410.77L322.25 1409.33L323.06 1407.92L323.86 1406.52L324.67 1405.15L325.48 1403.78L326.28 1402.44L327.09 1401.11L327.89 1399.8L328.7 1398.5L329.51 1397.22L330.31 1395.95L331.23 1394.52L332.15 1393.11L333.08 1391.72L334 1390.35L334.92 1389L335.84 1387.66L336.76 1386.34L337.68 1385.04L338.6 1383.75L339.52 1382.48L340.44 1381.23L341.37 1379.99L342.29 1378.77L343.21 1377.56L344.13 1376.36L345.17 1375.04L346.2 1373.73L347.24 1372.44L348.27 1371.17L349.31 1369.92L350.35 1368.68L351.38 1367.46L354.64 1363.72L357.09 1361L359.54 1358.37L361.99 1355.81L364.43 1353.33L366.88 1350.91L369.33 1348.56L371.78 1346.28L374.23 1344.05L376.68 1341.89L379.13 1339.78L381.58 1337.72L384.03 1335.72L386.48 1333.77L388.93 1331.86L391.37 1330.01L393.82 1328.19L396.27 1326.42L398.72 1324.69L401.17 1323.01L403.62 1321.35L406.07 1319.74L408.52 1318.16L410.97 1316.62L413.42 1315.11L415.87 1313.63L418.32 1312.19L420.76 1310.77L423.21 1309.39L425.66 1308.03L428.11 1306.7L430.56 1305.4L433.01 1304.12L435.46 1302.86L437.91 1301.64L440.36 1300.43L442.81 1299.25L445.26 1298.09L447.7 1296.95L450.15 1295.83L452.6 1294.73L455.05 1293.65L457.5 1292.6L459.95 1291.55L462.4 1290.53L464.85 1289.53L467.3 1288.54L469.75 1287.57L472.2 1286.61L474.65 1285.68L477.09 1284.75L479.54 1283.84L481.99 1282.95L484.44 1282.07L486.89 1281.2L489.34 1280.35L491.79 1279.51L494.24 1278.69L496.69 1277.87L499.14 1277.07L501.59 1276.28L504.03 1275.51L506.48 1274.74L508.93 1273.98L511.38 1273.24L513.83 1272.51L516.28 1271.78L518.73 1271.07L521.18 1270.37L523.63 1269.67L526.08 1268.99L528.53 1268.32L530.97 1267.65L533.42 1266.99L535.87 1266.35L538.32 1265.71L540.77 1265.07L543.22 1264.45L545.67 1263.84L548.12 1263.23L550.57 1262.63L553.02 1262.04L555.47 1261.45L557.92 1260.88L560.36 1260.31L562.81 1259.74L565.26 1259.19L567.71 1258.64L570.16 1258.09L572.61 1257.56L575.06 1257.03L577.51 1256.5L579.96 1255.98L582.41 1255.47L584.86 1254.96L587.3 1254.46L589.75 1253.97L592.2 1253.48L594.65 1252.99L597.1 1252.51L599.55 1252.04L602 1251.57L604.45 1251.11L606.9 1250.65L609.35 1250.19L611.8 1249.74L614.25 1249.3L616.69 1248.86L619.14 1248.43L621.59 1247.99L624.04 1247.57L626.49 1247.15L628.94 1246.73L631.39 1246.31L633.84 1245.9L636.29 1245.5L638.74 1245.1L641.19 1244.7L643.63 1244.3L646.08 1243.91L648.53 1243.53L650.98 1243.14L653.43 1242.77L655.88 1242.39L658.33 1242.02L660.78 1241.65L663.23 1241.28L665.68 1240.92L668.13 1240.56L670.58 1240.21L673.02 1239.85L675.47 1239.5L677.92 1239.16L680.37 1238.82L682.82 1238.48L685.27 1238.14L687.72 1237.8L690.17 1237.47L692.62 1237.14L695.07 1236.82L697.52 1236.49L699.96 1236.17L702.41 1235.86L704.86 1235.54L707.31 1235.23L709.76 1234.92L712.21 1234.61L714.66 1234.31L717.11 1234L719.56 1233.7L722.01 1233.41L724.46 1233.11L726.91 1232.82L729.35 1232.53L731.8 1232.24L734.25 1231.95L736.7 1231.67L739.15 1231.39L741.6 1231.11L744.05 1230.83L746.5 1230.56L748.95 1230.28L751.4 1230.01L753.85 1229.74L756.29 1229.47L758.74 1229.21L761.19 1228.95L763.64 1228.68L766.09 1228.42L768.54 1228.17L770.99 1227.91L773.44 1227.66L775.89 1227.4L778.34 1227.15L780.79 1226.9L783.23 1226.66L785.68 1226.41L788.13 1226.17L790.58 1225.93L793.03 1225.69L795.48 1225.45L797.93 1225.21L800.38 1224.98L802.83 1224.74L805.28 1224.51L807.73 1224.28L810.18 1224.05L812.62 1223.82L815.07 1223.6L817.52 1223.37L819.97 1223.15L822.42 1222.93L824.87 1222.71L827.32 1222.49L829.77 1222.27L832.22 1222.05L834.67 1221.84L837.12 1221.62L839.56 1221.41L842.01 1221.2L844.46 1220.99L846.91 1220.78L849.36 1220.58L851.81 1220.37L854.26 1220.17L856.71 1219.96L859.16 1219.76L861.61 1219.56L864.06 1219.36L866.51 1219.16L868.95 1218.97L871.4 1218.77L873.85 1218.57L876.3 1218.38L878.75 1218.19L881.2 1218L883.65 1217.81L886.1 1217.62L888.55 1217.43L891 1217.24L893.45 1217.06L895.89 1216.87L898.34 1216.69L900.79 1216.5L903.24 1216.32L905.69 1216.14L908.14 1215.96L910.59 1215.78L913.04 1215.6L915.49 1215.43L917.94 1215.25L920.39 1215.08L922.84 1214.9L925.28 1214.73L927.73 1214.56L930.18 1214.38L932.63 1214.21L935.08 1214.04L937.53 1213.88L939.98 1213.71L942.43 1213.54L944.88 1213.37L947.33 1213.21L949.78 1213.04L952.22 1212.88L954.67 1212.72L957.12 1212.56L959.57 1212.4L962.02 1212.24L964.47 1212.08L966.92 1211.92L969.37 1211.76L971.82 1211.6L974.27 1211.45L976.72 1211.29L979.16 1211.14L981.61 1210.98L984.06 1210.83L986.51 1210.68L988.96 1210.53L991.41 1210.37L993.86 1210.22L996.31 1210.07L998.76 1209.93L1001.21 1209.78L1003.66 1209.63L1006.11 1209.48L1008.55 1209.34L1011 1209.19L1013.45 1209.05L1015.9 1208.9L1018.35 1208.76L1020.8 1208.62L1023.25 1208.48L1025.7 1208.33L1028.15 1208.19L1030.6 1208.05L1033.05 1207.91L1035.49 1207.78L1037.94 1207.64L1040.39 1207.5L1042.84 1207.36L1045.29 1207.23L1047.74 1207.09L1050.19 1206.96L1052.64 1206.82L1055.09 1206.69L1057.54 1206.55L1059.99 1206.42L1062.44 1206.29L1064.88 1206.16L1067.33 1206.03L1069.78 1205.9L1072.23 1205.77L1074.68 1205.64L1077.13 1205.51L1079.58 1205.38L1082.03 1205.25L1084.48 1205.13L1086.93 1205L1089.38 1204.87L1091.82 1204.75L1094.27 1204.62L1096.72 1204.5L1099.17 1204.37L1101.62 1204.25L1104.07 1204.13L1106.52 1204L1108.97 1203.88L1111.42 1203.76L1113.87 1203.64L1116.32 1203.52L1118.77 1203.4L1121.21 1203.28L1123.66 1203.16L1126.11 1203.04L1128.56 1202.92L1131.01 1202.81L1133.46 1202.69L1135.91 1202.57L1138.36 1202.46L1140.81 1202.34L1143.26 1202.23L1145.71 1202.11L1148.15 1202L1150.6 1201.88L1153.05 1201.77L1155.5 1201.66L1157.95 1201.54L1160.4 1201.43L1162.85 1201.32L1165.3 1201.21L1167.75 1201.1L1170.2 1200.99L1172.65 1200.88L1175.1 1200.77L1177.54 1200.66L1179.99 1200.55L1182.44 1200.44L1184.89 1200.33L1187.34 1200.22L1189.79 1200.12L1192.24 1200.01L1194.69 1199.9L1197.14 1199.8L1199.59 1199.69L1202.04 1199.59L1204.48 1199.48L1206.93 1199.38L1209.38 1199.27L1211.83 1199.17L1214.28 1199.07L1216.73 1198.96L1219.18 1198.86L1221.63 1198.76L1224.08 1198.66L1226.53 1198.55L1228.98 1198.45L1231.42 1198.35L1233.87 1198.25L1236.32 1198.15L1238.77 1198.05L1241.22 1197.95L1243.67 1197.85L1246.12 1197.75L1248.57 1197.66L1251.02 1197.56L1253.47 1197.46L1255.92 1197.36L1258.37 1197.27L1260.81 1197.17L1263.26 1197.07L1265.71 1196.98L1268.16 1196.88L1270.61 1196.79L1273.06 1196.69L1275.51 1196.6L1277.96 1196.5L1280.41 1196.41L1282.86 1196.31L1285.31 1196.22L1287.75 1196.13L1290.2 1196.03L1292.65 1195.94L1295.1 1195.85L1297.55 1195.76L1300 1195.66L1302.45 1195.57L1304.9 1195.48L1307.35 1195.39L1309.8 1195.3L1312.25 1195.21L1314.7 1195.12L1317.14 1195.03L1319.59 1194.94L1322.04 1194.85L1324.49 1194.76L1326.94 1194.68L1329.39 1194.59" stroke="#00a5a5" stroke-width="7.8" fill="none" stroke-linejoin="round" clip-path="url(#cb)"/>
<path d="M365.2 793.8L479.5 793.8M365.2 782.6L365.2 805M479.5 782.6L479.5 805" stroke="#ffa500" stroke-width="2.9" fill="none"/>
<path d="M407.05 793.8L437.65 793.8M422.35 778.5L422.35 809.1" stroke="#ffa500" stroke-width="2.9" fill="none"/>
<path d="M365.2 848.8L479.5 848.8M365.2 837.6L365.2 860M479.5 837.6L479.5 860" stroke="#c080ff" stroke-width="2.9" fill="none"/>
<path d="M407.05 833.5L437.65 864.1M407.05 864.1L437.65 833.5" stroke="#c080ff" stroke-width="2.9" fill="none"/>
<path d="M365.2 903.7L479.5 903.7M365.2 892.5L365.2 914.9M479.5 892.5L479.5 914.9" stroke="#00a5a5" stroke-width="2.9" fill="none"/>
<path d="M407.05 888.4L437.65 919M407.05 919L437.65 888.4M407.05 903.7L437.65 903.7M422.35 888.4L422.35 919" stroke="#00a5a5" stroke-width="2.9" fill="none"/>
<rect x="249.6" y="744.2" width="1149.1" height="692.8" fill="none" stroke="#000" stroke-width="2.9"/>
<text x="105.06" y="38.3" font-size="44.2" font-family='"Liberation Sans", sans-serif' textLength="120.74" lengthAdjust="spacingAndGlyphs" stroke="#000" stroke-width="0.3" >10000</text>
<text x="129.2" y="182.48" font-size="44.2" font-family='"Liberation Sans", sans-serif' textLength="96.6" lengthAdjust="spacingAndGlyphs" stroke="#000" stroke-width="0.3" >1000</text>
<text x="153.35" y="326.66" font-size="44.2" font-family='"Liberation Sans", sans-serif' textLength="72.45" lengthAdjust="spacingAndGlyphs" stroke="#000" stroke-width="0.3" >100</text>
<text x="177.5" y="470.84" font-size="44.2" font-family='"Liberation Sans", sans-serif' textLength="48.3" lengthAdjust="spacingAndGlyphs" stroke="#000" stroke-width="0.3" >10</text>
<text x="201.65" y="615.02" font-size="44.2" font-family='"Liberation Sans", sans-serif' textLength="24.15" lengthAdjust="spacingAndGlyphs" stroke="#000" stroke-width="0.3" >1</text>
<text x="165.44" y="759.2" font-size="44.2" font-family='"Liberation Sans", sans-serif' textLength="60.36" lengthAdjust="spacingAndGlyphs" stroke="#000" stroke-width="0.3" >0.1</text>
<text x="203.74" y="1452.4" font-size="42.6" font-family='"Liberation Sans", sans-serif' textLength="22.96" lengthAdjust="spacingAndGlyphs" stroke="#000" stroke-width="0.3" >0</text>
<text x="169.31" y="1353.44" font-size="42.6" font-family='"Liberation Sans", sans-serif' textLength="57.39" lengthAdjust="spacingAndGlyphs" stroke="#000" stroke-width="0.3" >0.2</text>
<text x="169.31" y="1254.49" font-size="42.6" font-family='"Liberation Sans", sans-serif' textLength="57.39" lengthAdjust="spacingAndGlyphs" stroke="#000" stroke-width="0.3" >0.4</text>
<text x="169.31" y="1155.53" font-size="42.6" font-family='"Liberation Sans", sans-serif' textLength="57.39" lengthAdjust="spacingAndGlyphs" stroke="#000" stroke-width="0.3" >0.6</text>
<text x="169.31" y="1056.57" font-size="42.6" font-family='"Liberation Sans", sans-serif' textLength="57.39" lengthAdjust="spacingAndGlyphs" stroke="#000" stroke-width="0.3" >0.8</text>
<text x="203.74" y="957.61" font-size="42.6" font-family='"Liberation Sans", sans-serif' textLength="22.96" lengthAdjust="spacingAndGlyphs" stroke="#000" stroke-width="0.3" >1</text>
<text x="169.31" y="858.66" font-size="42.6" font-family='"Liberation Sans", sans-serif' textLength="57.39" lengthAdjust="spacingAndGlyphs" stroke="#000" stroke-width="0.3" >1.2</text>
<text x="209.08" y="1507.2" font-size="42.7" font-family='"Liberation Sans", sans-serif' textLength="91.84" lengthAdjust="spacingAndGlyphs" stroke="#000" stroke-width="0.3" >1600</text>
<text x="323.93" y="1507.2" font-size="42.7" font-family='"Liberation Sans", sans-serif' textLength="91.84" lengthAdjust="spacingAndGlyphs" stroke="#000" stroke-width="0.3" >1700</text>
<text x="438.78" y="1507.2" font-size="42.7" font-family='"Liberation Sans", sans-serif' textLength="91.84" lengthAdjust="spacingAndGlyphs" stroke="#000" stroke-width="0.3" >1800</text>
<text x="553.63" y="1507.2" font-size="42.7" font-family='"Liberation Sans", sans-serif' textLength="91.84" lengthAdjust="spacingAndGlyphs" stroke="#000" stroke-width="0.3" >1900</text>
<text x="668.48" y="1507.2" font-size="42.7" font-family='"Liberation Sans", sans-serif' textLength="91.84" lengthAdjust="spacingAndGlyphs" stroke="#000" stroke-width="0.3" >2000</text>
<text x="783.33" y="1507.2" font-size="42.7" font-family='"Liberation Sans", sans-serif' textLength="91.84" lengthAdjust="spacingAndGlyphs" stroke="#000" stroke-width="0.3" >2100</text>
<text x="898.18" y="1507.2" font-size="42.7" font-family='"Liberation Sans", sans-serif' textLength="91.84" lengthAdjust="spacingAndGlyphs" stroke="#000" stroke-width="0.3" >2200</text>
<text x="1013.03" y="1507.2" font-size="42.7" font-family='"Liberation Sans", sans-serif' textLength="91.84" lengthAdjust="spacingAndGlyphs" stroke="#000" stroke-width="0.3" >2300</text>
<text x="1127.88" y="1507.2" font-size="42.7" font-family='"Liberation Sans", sans-serif' textLength="91.84" lengthAdjust="spacingAndGlyphs" stroke="#000" stroke-width="0.3" >2400</text>
<text x="1242.73" y="1507.2" font-size="42.7" font-family='"Liberation Sans", sans-serif' textLength="91.84" lengthAdjust="spacingAndGlyphs" stroke="#000" stroke-width="0.3" >2500</text>
<text x="1357.58" y="1507.2" font-size="42.7" font-family='"Liberation Sans", sans-serif' textLength="91.84" lengthAdjust="spacingAndGlyphs" stroke="#000" stroke-width="0.3" >2600</text>
<text x="781.28" y="1589.8" font-size="42.2" font-family='"Liberation Sans", sans-serif' textLength="85.3" lengthAdjust="spacingAndGlyphs" stroke="#000" stroke-width="0.3" >T [K]</text>
<text transform="translate(103.8,522.18) rotate(-90)" font-size="44.1" font-family='"Liberation Sans", sans-serif' textLength="299.62" lengthAdjust="spacingAndGlyphs" stroke="#000" stroke-width="0.3" >illuminance [lx]</text>
<text transform="translate(103.1,1214.92) rotate(-90)" font-size="44.0" font-family='"Liberation Sans", sans-serif' textLength="243.67" lengthAdjust="spacingAndGlyphs" stroke="#000" stroke-width="0.3" >colour index</text>
<text x="347.15" y="86.5" font-size="43.9" font-family='"Liberation Sans", sans-serif' textLength="67.38" lengthAdjust="spacingAndGlyphs" stroke="#000" stroke-width="0.3" >red</text>
<text x="297.86" y="143.5" font-size="43.9" font-family='"Liberation Sans", sans-serif' textLength="116.71" lengthAdjust="spacingAndGlyphs" stroke="#000" stroke-width="0.3" >green</text>
<text x="327.53" y="201.1" font-size="43.9" font-family='"Liberation Sans", sans-serif' textLength="86.45" lengthAdjust="spacingAndGlyphs" stroke="#000" stroke-width="0.3" >blue</text>
<text x="272.51" y="808.9" font-size="42.0" font-family='"Liberation Sans", sans-serif' textLength="70.59" lengthAdjust="spacingAndGlyphs" stroke="#000" stroke-width="0.3" >G/R</text>
<text x="274.92" y="863.8" font-size="42.0" font-family='"Liberation Sans", sans-serif' textLength="68.2" lengthAdjust="spacingAndGlyphs" stroke="#000" stroke-width="0.3" >B/R</text>
<text x="271.47" y="918.6" font-size="42.0" font-family='"Liberation Sans", sans-serif' textLength="71.66" lengthAdjust="spacingAndGlyphs" stroke="#000" stroke-width="0.3" >B/G</text>
<text transform="scale(0.93,1)" x="1510.32 1531.61 1562.8 1593.98" y="371.6" font-size="45.0" font-family='"Liberation Sans", sans-serif' stroke="#000" stroke-width="0.3">100%</text>
<text transform="scale(0.93,1)" x="1533.33 1562.8 1593.98" y="443.7" font-size="45.0" font-family='"Liberation Sans", sans-serif' stroke="#000" stroke-width="0.3">80%</text>
<text transform="scale(0.93,1)" x="1533.33 1562.8 1593.98" y="515.8" font-size="45.0" font-family='"Liberation Sans", sans-serif' stroke="#000" stroke-width="0.3">60%</text>
<text transform="scale(0.93,1)" x="1533.33 1562.8 1593.98" y="587.9" font-size="45.0" font-family='"Liberation Sans", sans-serif' stroke="#000" stroke-width="0.3">40%</text>
<text transform="scale(0.93,1)" x="1533.33 1562.8 1593.98" y="660" font-size="45.0" font-family='"Liberation Sans", sans-serif' stroke="#000" stroke-width="0.3">20%</text>
<text transform="scale(0.93,1)" x="1562.8 1593.98" y="732.1" font-size="45.0" font-family='"Liberation Sans", sans-serif' stroke="#000" stroke-width="0.3">0%</text>
<text><tspan x="-1.74" y="66.46" font-size="99.5" font-family='"Liberation Serif", serif' textLength="26.9" lengthAdjust="spacingAndGlyphs">(</tspan><tspan x="27.08" y="65.6" font-size="74.18" font-family='"DejaVu Serif", "Liberation Serif", serif' textLength="45.51" lengthAdjust="spacingAndGlyphs">a</tspan><tspan x="74.65" y="66.46" font-size="99.5" font-family='"Liberation Serif", serif' textLength="26.12" lengthAdjust="spacingAndGlyphs">)</tspan></text>
<text><tspan x="-2.53" y="796.33" font-size="96.31" font-family='"Liberation Serif", serif' textLength="26.12" lengthAdjust="spacingAndGlyphs">(</tspan><tspan x="25.76" y="795.8" font-size="82.11" font-family='"DejaVu Serif", "Liberation Serif", serif' textLength="49.96" lengthAdjust="spacingAndGlyphs">b</tspan><tspan x="76.54" y="796.33" font-size="96.31" font-family='"Liberation Serif", serif' textLength="27.29" lengthAdjust="spacingAndGlyphs">)</tspan></text>
</svg>
</body></html>
